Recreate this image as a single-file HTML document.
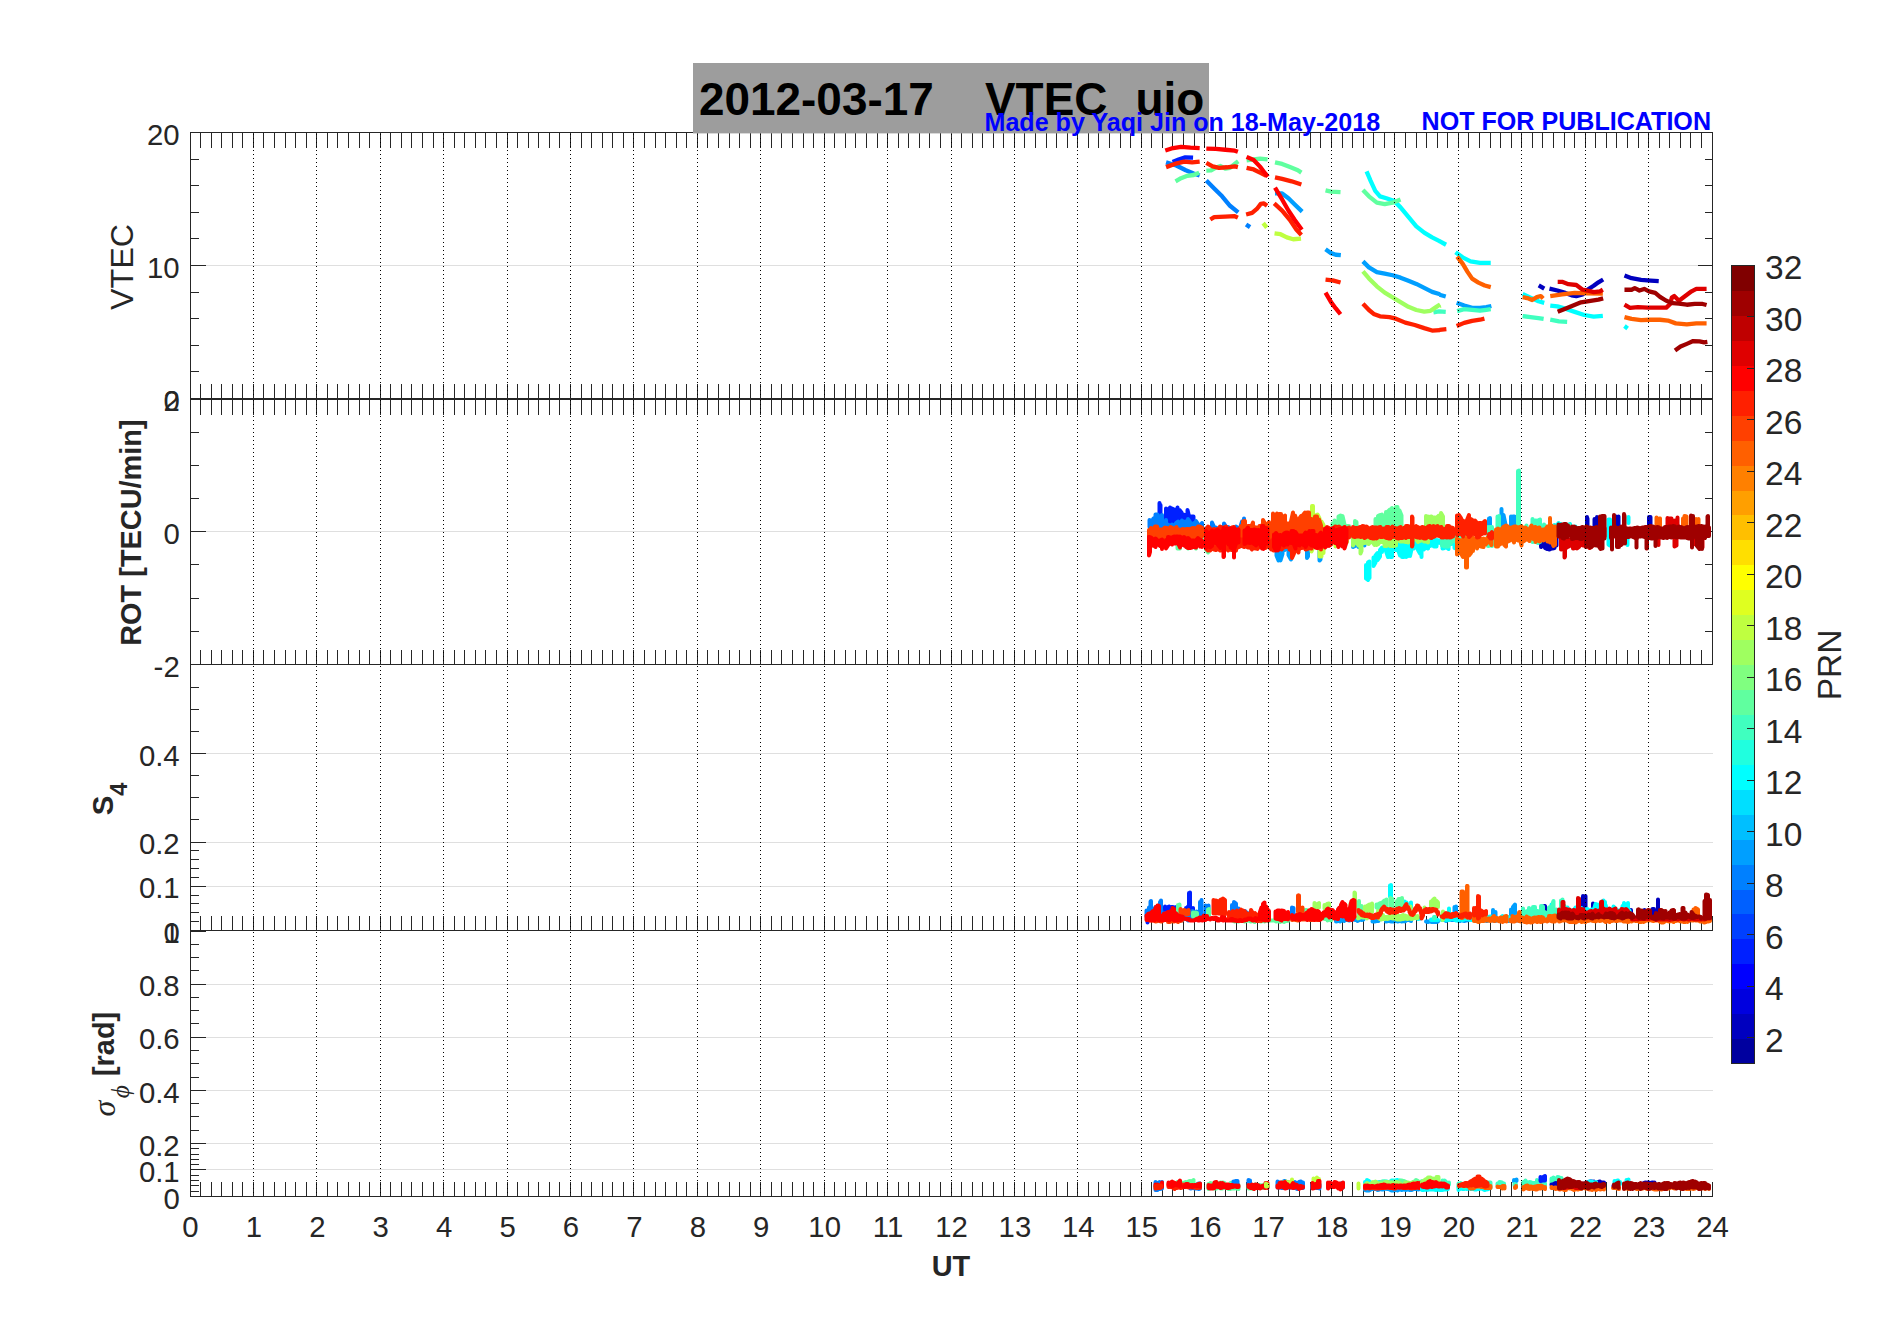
<!DOCTYPE html>
<html lang="en">
<head>
<meta charset="utf-8">
<title>2012-03-17 VTEC uio</title>
<style>
html,body{margin:0;padding:0;background:#fff;}
body{width:1902px;height:1330px;overflow:hidden;}
svg{display:block;}
</style>
</head>
<body>
<svg width="1902" height="1330" viewBox="0 0 1902 1330" font-family="'Liberation Sans', sans-serif" font-size="29.33" fill="#262626">
<rect width="1902" height="1330" fill="#fff"/>
<g shape-rendering="crispEdges">
<line x1="190.5" y1="265.5" x2="1712.5" y2="265.5" stroke="#dfdfdf" stroke-width="1"/>
<line x1="190.5" y1="531.5" x2="1712.5" y2="531.5" stroke="#dfdfdf" stroke-width="1"/>
<line x1="190.5" y1="886.5" x2="1712.5" y2="886.5" stroke="#dfdfdf" stroke-width="1"/>
<line x1="190.5" y1="842.5" x2="1712.5" y2="842.5" stroke="#dfdfdf" stroke-width="1"/>
<line x1="190.5" y1="753.5" x2="1712.5" y2="753.5" stroke="#dfdfdf" stroke-width="1"/>
<line x1="190.5" y1="1169.5" x2="1712.5" y2="1169.5" stroke="#dfdfdf" stroke-width="1"/>
<line x1="190.5" y1="1143.5" x2="1712.5" y2="1143.5" stroke="#dfdfdf" stroke-width="1"/>
<line x1="190.5" y1="1090.5" x2="1712.5" y2="1090.5" stroke="#dfdfdf" stroke-width="1"/>
<line x1="190.5" y1="1037.5" x2="1712.5" y2="1037.5" stroke="#dfdfdf" stroke-width="1"/>
<line x1="190.5" y1="984.5" x2="1712.5" y2="984.5" stroke="#dfdfdf" stroke-width="1"/>
</g>
<g shape-rendering="crispEdges">
<path d="M190.5 133v15M200.5 133v15M211.5 133v15M221.5 133v15M232.5 133v15M242.5 133v15M253.5 133v15M263.5 133v15M274.5 133v15M285.5 133v15M295.5 133v15M306.5 133v15M316.5 133v15M327.5 133v15M337.5 133v15M348.5 133v15M359.5 133v15M369.5 133v15M380.5 133v15M390.5 133v15M401.5 133v15M411.5 133v15M422.5 133v15M433.5 133v15M443.5 133v15M454.5 133v15M464.5 133v15M475.5 133v15M485.5 133v15M496.5 133v15M507.5 133v15M517.5 133v15M528.5 133v15M538.5 133v15M549.5 133v15M559.5 133v15M570.5 133v15M581.5 133v15M591.5 133v15M602.5 133v15M612.5 133v15M623.5 133v15M633.5 133v15M644.5 133v15M655.5 133v15M665.5 133v15M676.5 133v15M686.5 133v15M697.5 133v15M707.5 133v15M718.5 133v15M729.5 133v15M739.5 133v15M750.5 133v15M760.5 133v15M771.5 133v15M781.5 133v15M792.5 133v15M803.5 133v15M813.5 133v15M824.5 133v15M834.5 133v15M845.5 133v15M855.5 133v15M866.5 133v15M877.5 133v15M887.5 133v15M898.5 133v15M908.5 133v15M919.5 133v15M929.5 133v15M940.5 133v15M951.5 133v15M961.5 133v15M972.5 133v15M982.5 133v15M993.5 133v15M1003.5 133v15M1014.5 133v15M1024.5 133v15M1035.5 133v15M1046.5 133v15M1056.5 133v15M1067.5 133v15M1077.5 133v15M1088.5 133v15M1098.5 133v15M1109.5 133v15M1120.5 133v15M1130.5 133v15M1141.5 133v15M1151.5 133v15M1162.5 133v15M1172.5 133v15M1183.5 133v15M1194.5 133v15M1204.5 133v15M1215.5 133v15M1225.5 133v15M1236.5 133v15M1246.5 133v15M1257.5 133v15M1268.5 133v15M1278.5 133v15M1289.5 133v15M1299.5 133v15M1310.5 133v15M1320.5 133v15M1331.5 133v15M1342.5 133v15M1352.5 133v15M1363.5 133v15M1373.5 133v15M1384.5 133v15M1394.5 133v15M1405.5 133v15M1416.5 133v15M1426.5 133v15M1437.5 133v15M1447.5 133v15M1458.5 133v15M1468.5 133v15M1479.5 133v15M1490.5 133v15M1500.5 133v15M1511.5 133v15M1521.5 133v15M1532.5 133v15M1542.5 133v15M1553.5 133v15M1564.5 133v15M1574.5 133v15M1585.5 133v15M1595.5 133v15M1606.5 133v15M1616.5 133v15M1627.5 133v15M1638.5 133v15M1648.5 133v15M1659.5 133v15M1669.5 133v15M1680.5 133v15M1690.5 133v15M1701.5 133v15M1712.5 133v15" stroke="#262626" stroke-width="1" fill="none" />
<path d="M190.5 399v-15M200.5 399v-15M211.5 399v-15M221.5 399v-15M232.5 399v-15M242.5 399v-15M253.5 399v-15M263.5 399v-15M274.5 399v-15M285.5 399v-15M295.5 399v-15M306.5 399v-15M316.5 399v-15M327.5 399v-15M337.5 399v-15M348.5 399v-15M359.5 399v-15M369.5 399v-15M380.5 399v-15M390.5 399v-15M401.5 399v-15M411.5 399v-15M422.5 399v-15M433.5 399v-15M443.5 399v-15M454.5 399v-15M464.5 399v-15M475.5 399v-15M485.5 399v-15M496.5 399v-15M507.5 399v-15M517.5 399v-15M528.5 399v-15M538.5 399v-15M549.5 399v-15M559.5 399v-15M570.5 399v-15M581.5 399v-15M591.5 399v-15M602.5 399v-15M612.5 399v-15M623.5 399v-15M633.5 399v-15M644.5 399v-15M655.5 399v-15M665.5 399v-15M676.5 399v-15M686.5 399v-15M697.5 399v-15M707.5 399v-15M718.5 399v-15M729.5 399v-15M739.5 399v-15M750.5 399v-15M760.5 399v-15M771.5 399v-15M781.5 399v-15M792.5 399v-15M803.5 399v-15M813.5 399v-15M824.5 399v-15M834.5 399v-15M845.5 399v-15M855.5 399v-15M866.5 399v-15M877.5 399v-15M887.5 399v-15M898.5 399v-15M908.5 399v-15M919.5 399v-15M929.5 399v-15M940.5 399v-15M951.5 399v-15M961.5 399v-15M972.5 399v-15M982.5 399v-15M993.5 399v-15M1003.5 399v-15M1014.5 399v-15M1024.5 399v-15M1035.5 399v-15M1046.5 399v-15M1056.5 399v-15M1067.5 399v-15M1077.5 399v-15M1088.5 399v-15M1098.5 399v-15M1109.5 399v-15M1120.5 399v-15M1130.5 399v-15M1141.5 399v-15M1151.5 399v-15M1162.5 399v-15M1172.5 399v-15M1183.5 399v-15M1194.5 399v-15M1204.5 399v-15M1215.5 399v-15M1225.5 399v-15M1236.5 399v-15M1246.5 399v-15M1257.5 399v-15M1268.5 399v-15M1278.5 399v-15M1289.5 399v-15M1299.5 399v-15M1310.5 399v-15M1320.5 399v-15M1331.5 399v-15M1342.5 399v-15M1352.5 399v-15M1363.5 399v-15M1373.5 399v-15M1384.5 399v-15M1394.5 399v-15M1405.5 399v-15M1416.5 399v-15M1426.5 399v-15M1437.5 399v-15M1447.5 399v-15M1458.5 399v-15M1468.5 399v-15M1479.5 399v-15M1490.5 399v-15M1500.5 399v-15M1511.5 399v-15M1521.5 399v-15M1532.5 399v-15M1542.5 399v-15M1553.5 399v-15M1564.5 399v-15M1574.5 399v-15M1585.5 399v-15M1595.5 399v-15M1606.5 399v-15M1616.5 399v-15M1627.5 399v-15M1638.5 399v-15M1648.5 399v-15M1659.5 399v-15M1669.5 399v-15M1680.5 399v-15M1690.5 399v-15M1701.5 399v-15M1712.5 399v-15" stroke="#262626" stroke-width="1" fill="none" />
<path d="M190.5 400v15M200.5 400v15M211.5 400v15M221.5 400v15M232.5 400v15M242.5 400v15M253.5 400v15M263.5 400v15M274.5 400v15M285.5 400v15M295.5 400v15M306.5 400v15M316.5 400v15M327.5 400v15M337.5 400v15M348.5 400v15M359.5 400v15M369.5 400v15M380.5 400v15M390.5 400v15M401.5 400v15M411.5 400v15M422.5 400v15M433.5 400v15M443.5 400v15M454.5 400v15M464.5 400v15M475.5 400v15M485.5 400v15M496.5 400v15M507.5 400v15M517.5 400v15M528.5 400v15M538.5 400v15M549.5 400v15M559.5 400v15M570.5 400v15M581.5 400v15M591.5 400v15M602.5 400v15M612.5 400v15M623.5 400v15M633.5 400v15M644.5 400v15M655.5 400v15M665.5 400v15M676.5 400v15M686.5 400v15M697.5 400v15M707.5 400v15M718.5 400v15M729.5 400v15M739.5 400v15M750.5 400v15M760.5 400v15M771.5 400v15M781.5 400v15M792.5 400v15M803.5 400v15M813.5 400v15M824.5 400v15M834.5 400v15M845.5 400v15M855.5 400v15M866.5 400v15M877.5 400v15M887.5 400v15M898.5 400v15M908.5 400v15M919.5 400v15M929.5 400v15M940.5 400v15M951.5 400v15M961.5 400v15M972.5 400v15M982.5 400v15M993.5 400v15M1003.5 400v15M1014.5 400v15M1024.5 400v15M1035.5 400v15M1046.5 400v15M1056.5 400v15M1067.5 400v15M1077.5 400v15M1088.5 400v15M1098.5 400v15M1109.5 400v15M1120.5 400v15M1130.5 400v15M1141.5 400v15M1151.5 400v15M1162.5 400v15M1172.5 400v15M1183.5 400v15M1194.5 400v15M1204.5 400v15M1215.5 400v15M1225.5 400v15M1236.5 400v15M1246.5 400v15M1257.5 400v15M1268.5 400v15M1278.5 400v15M1289.5 400v15M1299.5 400v15M1310.5 400v15M1320.5 400v15M1331.5 400v15M1342.5 400v15M1352.5 400v15M1363.5 400v15M1373.5 400v15M1384.5 400v15M1394.5 400v15M1405.5 400v15M1416.5 400v15M1426.5 400v15M1437.5 400v15M1447.5 400v15M1458.5 400v15M1468.5 400v15M1479.5 400v15M1490.5 400v15M1500.5 400v15M1511.5 400v15M1521.5 400v15M1532.5 400v15M1542.5 400v15M1553.5 400v15M1564.5 400v15M1574.5 400v15M1585.5 400v15M1595.5 400v15M1606.5 400v15M1616.5 400v15M1627.5 400v15M1638.5 400v15M1648.5 400v15M1659.5 400v15M1669.5 400v15M1680.5 400v15M1690.5 400v15M1701.5 400v15M1712.5 400v15" stroke="#262626" stroke-width="1" fill="none" />
<path d="M190.5 665v-15M200.5 665v-15M211.5 665v-15M221.5 665v-15M232.5 665v-15M242.5 665v-15M253.5 665v-15M263.5 665v-15M274.5 665v-15M285.5 665v-15M295.5 665v-15M306.5 665v-15M316.5 665v-15M327.5 665v-15M337.5 665v-15M348.5 665v-15M359.5 665v-15M369.5 665v-15M380.5 665v-15M390.5 665v-15M401.5 665v-15M411.5 665v-15M422.5 665v-15M433.5 665v-15M443.5 665v-15M454.5 665v-15M464.5 665v-15M475.5 665v-15M485.5 665v-15M496.5 665v-15M507.5 665v-15M517.5 665v-15M528.5 665v-15M538.5 665v-15M549.5 665v-15M559.5 665v-15M570.5 665v-15M581.5 665v-15M591.5 665v-15M602.5 665v-15M612.5 665v-15M623.5 665v-15M633.5 665v-15M644.5 665v-15M655.5 665v-15M665.5 665v-15M676.5 665v-15M686.5 665v-15M697.5 665v-15M707.5 665v-15M718.5 665v-15M729.5 665v-15M739.5 665v-15M750.5 665v-15M760.5 665v-15M771.5 665v-15M781.5 665v-15M792.5 665v-15M803.5 665v-15M813.5 665v-15M824.5 665v-15M834.5 665v-15M845.5 665v-15M855.5 665v-15M866.5 665v-15M877.5 665v-15M887.5 665v-15M898.5 665v-15M908.5 665v-15M919.5 665v-15M929.5 665v-15M940.5 665v-15M951.5 665v-15M961.5 665v-15M972.5 665v-15M982.5 665v-15M993.5 665v-15M1003.5 665v-15M1014.5 665v-15M1024.5 665v-15M1035.5 665v-15M1046.5 665v-15M1056.5 665v-15M1067.5 665v-15M1077.5 665v-15M1088.5 665v-15M1098.5 665v-15M1109.5 665v-15M1120.5 665v-15M1130.5 665v-15M1141.5 665v-15M1151.5 665v-15M1162.5 665v-15M1172.5 665v-15M1183.5 665v-15M1194.5 665v-15M1204.5 665v-15M1215.5 665v-15M1225.5 665v-15M1236.5 665v-15M1246.5 665v-15M1257.5 665v-15M1268.5 665v-15M1278.5 665v-15M1289.5 665v-15M1299.5 665v-15M1310.5 665v-15M1320.5 665v-15M1331.5 665v-15M1342.5 665v-15M1352.5 665v-15M1363.5 665v-15M1373.5 665v-15M1384.5 665v-15M1394.5 665v-15M1405.5 665v-15M1416.5 665v-15M1426.5 665v-15M1437.5 665v-15M1447.5 665v-15M1458.5 665v-15M1468.5 665v-15M1479.5 665v-15M1490.5 665v-15M1500.5 665v-15M1511.5 665v-15M1521.5 665v-15M1532.5 665v-15M1542.5 665v-15M1553.5 665v-15M1564.5 665v-15M1574.5 665v-15M1585.5 665v-15M1595.5 665v-15M1606.5 665v-15M1616.5 665v-15M1627.5 665v-15M1638.5 665v-15M1648.5 665v-15M1659.5 665v-15M1669.5 665v-15M1680.5 665v-15M1690.5 665v-15M1701.5 665v-15M1712.5 665v-15" stroke="#262626" stroke-width="1" fill="none" />
<path d="M190.5 931v-15M200.5 931v-15M211.5 931v-15M221.5 931v-15M232.5 931v-15M242.5 931v-15M253.5 931v-15M263.5 931v-15M274.5 931v-15M285.5 931v-15M295.5 931v-15M306.5 931v-15M316.5 931v-15M327.5 931v-15M337.5 931v-15M348.5 931v-15M359.5 931v-15M369.5 931v-15M380.5 931v-15M390.5 931v-15M401.5 931v-15M411.5 931v-15M422.5 931v-15M433.5 931v-15M443.5 931v-15M454.5 931v-15M464.5 931v-15M475.5 931v-15M485.5 931v-15M496.5 931v-15M507.5 931v-15M517.5 931v-15M528.5 931v-15M538.5 931v-15M549.5 931v-15M559.5 931v-15M570.5 931v-15M581.5 931v-15M591.5 931v-15M602.5 931v-15M612.5 931v-15M623.5 931v-15M633.5 931v-15M644.5 931v-15M655.5 931v-15M665.5 931v-15M676.5 931v-15M686.5 931v-15M697.5 931v-15M707.5 931v-15M718.5 931v-15M729.5 931v-15M739.5 931v-15M750.5 931v-15M760.5 931v-15M771.5 931v-15M781.5 931v-15M792.5 931v-15M803.5 931v-15M813.5 931v-15M824.5 931v-15M834.5 931v-15M845.5 931v-15M855.5 931v-15M866.5 931v-15M877.5 931v-15M887.5 931v-15M898.5 931v-15M908.5 931v-15M919.5 931v-15M929.5 931v-15M940.5 931v-15M951.5 931v-15M961.5 931v-15M972.5 931v-15M982.5 931v-15M993.5 931v-15M1003.5 931v-15M1014.5 931v-15M1024.5 931v-15M1035.5 931v-15M1046.5 931v-15M1056.5 931v-15M1067.5 931v-15M1077.5 931v-15M1088.5 931v-15M1098.5 931v-15M1109.5 931v-15M1120.5 931v-15M1130.5 931v-15M1141.5 931v-15M1151.5 931v-15M1162.5 931v-15M1172.5 931v-15M1183.5 931v-15M1194.5 931v-15M1204.5 931v-15M1215.5 931v-15M1225.5 931v-15M1236.5 931v-15M1246.5 931v-15M1257.5 931v-15M1268.5 931v-15M1278.5 931v-15M1289.5 931v-15M1299.5 931v-15M1310.5 931v-15M1320.5 931v-15M1331.5 931v-15M1342.5 931v-15M1352.5 931v-15M1363.5 931v-15M1373.5 931v-15M1384.5 931v-15M1394.5 931v-15M1405.5 931v-15M1416.5 931v-15M1426.5 931v-15M1437.5 931v-15M1447.5 931v-15M1458.5 931v-15M1468.5 931v-15M1479.5 931v-15M1490.5 931v-15M1500.5 931v-15M1511.5 931v-15M1521.5 931v-15M1532.5 931v-15M1542.5 931v-15M1553.5 931v-15M1564.5 931v-15M1574.5 931v-15M1585.5 931v-15M1595.5 931v-15M1606.5 931v-15M1616.5 931v-15M1627.5 931v-15M1638.5 931v-15M1648.5 931v-15M1659.5 931v-15M1669.5 931v-15M1680.5 931v-15M1690.5 931v-15M1701.5 931v-15M1712.5 931v-15" stroke="#262626" stroke-width="1" fill="none" />
<path d="M190.5 1197v-15M200.5 1197v-15M211.5 1197v-15M221.5 1197v-15M232.5 1197v-15M242.5 1197v-15M253.5 1197v-15M263.5 1197v-15M274.5 1197v-15M285.5 1197v-15M295.5 1197v-15M306.5 1197v-15M316.5 1197v-15M327.5 1197v-15M337.5 1197v-15M348.5 1197v-15M359.5 1197v-15M369.5 1197v-15M380.5 1197v-15M390.5 1197v-15M401.5 1197v-15M411.5 1197v-15M422.5 1197v-15M433.5 1197v-15M443.5 1197v-15M454.5 1197v-15M464.5 1197v-15M475.5 1197v-15M485.5 1197v-15M496.5 1197v-15M507.5 1197v-15M517.5 1197v-15M528.5 1197v-15M538.5 1197v-15M549.5 1197v-15M559.5 1197v-15M570.5 1197v-15M581.5 1197v-15M591.5 1197v-15M602.5 1197v-15M612.5 1197v-15M623.5 1197v-15M633.5 1197v-15M644.5 1197v-15M655.5 1197v-15M665.5 1197v-15M676.5 1197v-15M686.5 1197v-15M697.5 1197v-15M707.5 1197v-15M718.5 1197v-15M729.5 1197v-15M739.5 1197v-15M750.5 1197v-15M760.5 1197v-15M771.5 1197v-15M781.5 1197v-15M792.5 1197v-15M803.5 1197v-15M813.5 1197v-15M824.5 1197v-15M834.5 1197v-15M845.5 1197v-15M855.5 1197v-15M866.5 1197v-15M877.5 1197v-15M887.5 1197v-15M898.5 1197v-15M908.5 1197v-15M919.5 1197v-15M929.5 1197v-15M940.5 1197v-15M951.5 1197v-15M961.5 1197v-15M972.5 1197v-15M982.5 1197v-15M993.5 1197v-15M1003.5 1197v-15M1014.5 1197v-15M1024.5 1197v-15M1035.5 1197v-15M1046.5 1197v-15M1056.5 1197v-15M1067.5 1197v-15M1077.5 1197v-15M1088.5 1197v-15M1098.5 1197v-15M1109.5 1197v-15M1120.5 1197v-15M1130.5 1197v-15M1141.5 1197v-15M1151.5 1197v-15M1162.5 1197v-15M1172.5 1197v-15M1183.5 1197v-15M1194.5 1197v-15M1204.5 1197v-15M1215.5 1197v-15M1225.5 1197v-15M1236.5 1197v-15M1246.5 1197v-15M1257.5 1197v-15M1268.5 1197v-15M1278.5 1197v-15M1289.5 1197v-15M1299.5 1197v-15M1310.5 1197v-15M1320.5 1197v-15M1331.5 1197v-15M1342.5 1197v-15M1352.5 1197v-15M1363.5 1197v-15M1373.5 1197v-15M1384.5 1197v-15M1394.5 1197v-15M1405.5 1197v-15M1416.5 1197v-15M1426.5 1197v-15M1437.5 1197v-15M1447.5 1197v-15M1458.5 1197v-15M1468.5 1197v-15M1479.5 1197v-15M1490.5 1197v-15M1500.5 1197v-15M1511.5 1197v-15M1521.5 1197v-15M1532.5 1197v-15M1542.5 1197v-15M1553.5 1197v-15M1564.5 1197v-15M1574.5 1197v-15M1585.5 1197v-15M1595.5 1197v-15M1606.5 1197v-15M1616.5 1197v-15M1627.5 1197v-15M1638.5 1197v-15M1648.5 1197v-15M1659.5 1197v-15M1669.5 1197v-15M1680.5 1197v-15M1690.5 1197v-15M1701.5 1197v-15M1712.5 1197v-15" stroke="#262626" stroke-width="1" fill="none" />
<path d="M190.5 265.5h15M1712.5 265.5h-15M190.5 371.5h8M1712.5 371.5h-8M190.5 345.5h8M1712.5 345.5h-8M190.5 318.5h8M1712.5 318.5h-8M190.5 292.5h8M1712.5 292.5h-8M190.5 238.5h8M1712.5 238.5h-8M190.5 212.5h8M1712.5 212.5h-8M190.5 185.5h8M1712.5 185.5h-8M190.5 159.5h8M1712.5 159.5h-8" stroke="#262626" stroke-width="1" fill="none" />
<path d="M190.5 531.5h15M1712.5 531.5h-15M190.5 631.5h8M1712.5 631.5h-8M190.5 598.5h8M1712.5 598.5h-8M190.5 564.5h8M1712.5 564.5h-8M190.5 498.5h8M1712.5 498.5h-8M190.5 465.5h8M1712.5 465.5h-8M190.5 432.5h8M1712.5 432.5h-8" stroke="#262626" stroke-width="1" fill="none" />
<path d="M190.5 886.5h15M190.5 842.5h15M190.5 753.5h15M190.5 921.5h8M190.5 912.5h8M190.5 903.5h8M190.5 895.5h8M190.5 877.5h8M190.5 868.5h8M190.5 859.5h8M190.5 850.5h8M190.5 819.5h8M190.5 797.5h8M190.5 775.5h8M190.5 731.5h8M190.5 709.5h8M190.5 687.5h8" stroke="#262626" stroke-width="1" fill="none" />
<path d="M190.5 1169.5h15M190.5 1143.5h15M190.5 1090.5h15M190.5 1037.5h15M190.5 984.5h15M190.5 931.5h15M190.5 1191.5h8M190.5 1185.5h8M190.5 1180.5h8M190.5 1175.5h8M190.5 1164.5h8M190.5 1159.5h8M190.5 1154.5h8M190.5 1148.5h8M190.5 1130.5h8M190.5 1116.5h8M190.5 1103.5h8M190.5 1077.5h8M190.5 1063.5h8M190.5 1050.5h8M190.5 1023.5h8M190.5 1010.5h8M190.5 997.5h8M190.5 970.5h8M190.5 957.5h8M190.5 944.5h8" stroke="#262626" stroke-width="1" fill="none" />
<path d="M190.5 132.5H1712.5V398.5H190.5Z" stroke="#262626" stroke-width="1" fill="none" />
<path d="M190.5 399.5H1712.5V664.5H190.5Z" stroke="#262626" stroke-width="1" fill="none" />
<path d="M190.5 664.5V930.5H1712.5" stroke="#262626" stroke-width="1" fill="none" />
<path d="M190.5 930.5V1196.5H1712.5" stroke="#262626" stroke-width="1" fill="none" />
</g>
<rect x="693" y="63" width="516" height="70.4" fill="#9d9d9d"/>
<g id="vtec">
<path d="M1538.74 285.47L1544.26 288.63" stroke="#0000bf" stroke-width="4.3" fill="none" stroke-linejoin="round" stroke-linecap="butt"/>
<path d="M1549.47 288.63L1557.37 290.53L1565.26 292.89L1571.58 295.26L1576.32 296.05L1582.63 294.47L1587.37 289.74L1593.68 285.79L1598.42 282.32L1603.16 279.47" stroke="#0000bf" stroke-width="4.3" fill="none" stroke-linejoin="round" stroke-linecap="butt"/>
<path d="M1624.47 275.53L1631.58 278.21L1641.05 279.95L1650.53 280.58L1658.74 281.05" stroke="#0000bf" stroke-width="4.3" fill="none" stroke-linejoin="round" stroke-linecap="butt"/>
<path d="M1172.54 161.92L1178.6 159.56L1185.33 157.38L1193.07 157.71" stroke="#0020ff" stroke-width="4.3" fill="none" stroke-linejoin="round" stroke-linecap="butt"/>
<path d="M1166.05 162.37L1176.32 165.53L1185.79 170.26L1193.68 173.42L1199.68 175.47" stroke="#0080ff" stroke-width="4.3" fill="none" stroke-linejoin="round" stroke-linecap="butt"/>
<path d="M1206.32 180.53L1214.21 188.42L1222.11 196.32L1230 205.79L1238.21 212.42" stroke="#0080ff" stroke-width="4.3" fill="none" stroke-linejoin="round" stroke-linecap="butt"/>
<path d="M1246.11 224.42L1250.05 227.11" stroke="#0080ff" stroke-width="4.3" fill="none" stroke-linejoin="round" stroke-linecap="butt"/>
<path d="M1275 193.47L1282.11 193.47L1288.42 198.21L1294.74 204.53L1302.16 211.63" stroke="#009fff" stroke-width="4.3" fill="none" stroke-linejoin="round" stroke-linecap="butt"/>
<path d="M1325.53 249.21L1331.05 253.16L1335.79 254.74L1340.84 255.21" stroke="#009fff" stroke-width="4.3" fill="none" stroke-linejoin="round" stroke-linecap="butt"/>
<path d="M1362.95 261.37L1368.95 267.37L1376.84 272.11L1384.74 273.68L1392.63 275.26L1400.53 277.63L1408.42 280.79L1416.32 283.95L1424.21 287.89L1432.11 291.84L1440 294.21" stroke="#009fff" stroke-width="4.3" fill="none" stroke-linejoin="round" stroke-linecap="butt"/>
<path d="M1439.5 294.74L1445.74 296.53" stroke="#009fff" stroke-width="4.3" fill="none" stroke-linejoin="round" stroke-linecap="butt"/>
<path d="M1456.63 302.84L1464.21 305.53L1472.11 307.89L1480 307.89L1486.32 307.11L1491.37 306" stroke="#009fff" stroke-width="4.3" fill="none" stroke-linejoin="round" stroke-linecap="butt"/>
<path d="M1366.58 171.37L1370.53 180.53L1375.26 190.79L1380 196.32L1386.32 198.21L1394.21 201.05L1400.53 207.37L1408.42 216.84L1416.32 226.32L1424.21 232.63L1432.11 237.37L1440 241.32" stroke="#00ffff" stroke-width="4.3" fill="none" stroke-linejoin="round" stroke-linecap="butt"/>
<path d="M1439.5 241.21L1446.05 244.74" stroke="#00ffff" stroke-width="4.3" fill="none" stroke-linejoin="round" stroke-linecap="butt"/>
<path d="M1455.53 252.32L1462.63 257.37L1470.53 261.32L1480 262.89L1490.74 262.89" stroke="#00ffff" stroke-width="4.3" fill="none" stroke-linejoin="round" stroke-linecap="butt"/>
<path d="M1522.63 294L1530.53 297.63L1538.42 301.26L1544.26 302.84" stroke="#00ffff" stroke-width="4.3" fill="none" stroke-linejoin="round" stroke-linecap="butt"/>
<path d="M1550.26 305.53L1557.37 306.32L1565.26 308.68L1574.74 311.84L1584.21 315L1593.68 316.58L1602.84 315.79" stroke="#00ffff" stroke-width="4.3" fill="none" stroke-linejoin="round" stroke-linecap="butt"/>
<path d="M1624.47 326.05L1627.63 328.42" stroke="#00ffff" stroke-width="4.3" fill="none" stroke-linejoin="round" stroke-linecap="butt"/>
<path d="M1433.42 312.32L1438.95 311.37L1445.74 311.84" stroke="#40ffbf" stroke-width="4.3" fill="none" stroke-linejoin="round" stroke-linecap="butt"/>
<path d="M1457.11 311.05L1464.21 309.16L1472.11 309.79L1480 310.74L1486.32 309.79L1490.74 309.16" stroke="#40ffbf" stroke-width="4.3" fill="none" stroke-linejoin="round" stroke-linecap="butt"/>
<path d="M1522.63 316.11L1530.53 317.05L1538.42 318.16L1543.63 318.95" stroke="#40ffbf" stroke-width="4.3" fill="none" stroke-linejoin="round" stroke-linecap="butt"/>
<path d="M1550.26 319.74L1558.95 321.32L1567.16 321.79" stroke="#40ffbf" stroke-width="4.3" fill="none" stroke-linejoin="round" stroke-linecap="butt"/>
<path d="M1175.53 181.32L1181.05 178.16L1187.37 175.79L1193.68 175L1199.21 172.63" stroke="#60ff9f" stroke-width="4.3" fill="none" stroke-linejoin="round" stroke-linecap="butt"/>
<path d="M1206.32 170.58L1211.05 170.42L1215.79 167.58L1220.53 166L1225.26 168.68L1230 167.89L1234.74 163.95L1238.21 161.26" stroke="#60ff9f" stroke-width="4.3" fill="none" stroke-linejoin="round" stroke-linecap="butt"/>
<path d="M1246.58 160.32L1253.68 159.37L1260 158.58L1267.58 159.37" stroke="#60ff9f" stroke-width="4.3" fill="none" stroke-linejoin="round" stroke-linecap="butt"/>
<path d="M1275 162.37L1282.11 163.95L1290 167.11L1297.89 170.26L1301.37 172.63" stroke="#60ff9f" stroke-width="4.3" fill="none" stroke-linejoin="round" stroke-linecap="butt"/>
<path d="M1325.53 190.32L1331.05 191.58L1340.53 192.05" stroke="#60ff9f" stroke-width="4.3" fill="none" stroke-linejoin="round" stroke-linecap="butt"/>
<path d="M1362.95 190L1368.95 196.32L1376.84 202.63L1384.74 204.21L1392.63 202.63L1400.53 199.47" stroke="#60ff9f" stroke-width="4.3" fill="none" stroke-linejoin="round" stroke-linecap="butt"/>
<path d="M1362.95 271.32L1368.95 278.42L1376.84 286.32L1384.74 292.63L1392.63 297.37L1400.53 302.11L1408.42 306.84L1416.32 310L1424.21 311.58L1430.53 310.79L1435.26 307.63L1440 304.47" stroke="#9fff60" stroke-width="4.3" fill="none" stroke-linejoin="round" stroke-linecap="butt"/>
<path d="M1439.5 306.04L1440.53 305.53" stroke="#9fff60" stroke-width="4.3" fill="none" stroke-linejoin="round" stroke-linecap="butt"/>
<path d="M1263.16 223.16L1266.79 227.58" stroke="#bfff40" stroke-width="4.3" fill="none" stroke-linejoin="round" stroke-linecap="butt"/>
<path d="M1274.53 233.42L1280.53 234.21L1286.84 237.37L1293.16 239.26L1301.05 238.63" stroke="#bfff40" stroke-width="4.3" fill="none" stroke-linejoin="round" stroke-linecap="butt"/>
<path d="M1457.11 256.58L1462.63 263.68L1467.37 271.58L1472.11 278.68L1478.42 282.63L1484.74 285.47L1490.74 287.05" stroke="#ff6000" stroke-width="4.3" fill="none" stroke-linejoin="round" stroke-linecap="butt"/>
<path d="M1522.63 297.16L1527.37 298.11L1532.11 300L1536.84 297.16L1540.79 296.05L1543.16 298.42" stroke="#ff6000" stroke-width="4.3" fill="none" stroke-linejoin="round" stroke-linecap="butt"/>
<path d="M1550.26 296.05L1562.11 294.47L1574.74 292.89L1587.37 293.37L1602.84 293.68" stroke="#ff6000" stroke-width="4.3" fill="none" stroke-linejoin="round" stroke-linecap="butt"/>
<path d="M1624.47 317.05L1631.58 318.95L1641.05 320.21L1650.53 319.74L1660 319.74L1667.89 320.53L1675.79 323.37L1686.84 324.47L1696.32 323.37L1706.58 323.37" stroke="#ff6000" stroke-width="4.3" fill="none" stroke-linejoin="round" stroke-linecap="butt"/>
<path d="M1166.05 167.11L1174.74 163.95L1184.21 161.58L1192.11 162.37L1199.68 161.58" stroke="#ff2000" stroke-width="4.3" fill="none" stroke-linejoin="round" stroke-linecap="butt"/>
<path d="M1206.32 162.84L1212.63 166.32L1218.95 167.89L1226.84 167.26L1234.74 166.32L1237.89 167.11" stroke="#ff2000" stroke-width="4.3" fill="none" stroke-linejoin="round" stroke-linecap="butt"/>
<path d="M1210.26 219.53L1214.21 217.16L1225.26 216.68L1234.74 216.21L1237.89 217.63" stroke="#ff2000" stroke-width="4.3" fill="none" stroke-linejoin="round" stroke-linecap="butt"/>
<path d="M1246.58 167.89L1253.68 169.47L1260 172.63L1266.32 175.79" stroke="#ff2000" stroke-width="4.3" fill="none" stroke-linejoin="round" stroke-linecap="butt"/>
<path d="M1246.11 214.47L1252.11 212.89L1256.84 208.95L1260.79 203.89L1263.95 203.42L1267.11 205.79" stroke="#ff2000" stroke-width="4.3" fill="none" stroke-linejoin="round" stroke-linecap="butt"/>
<path d="M1275 177.37L1282.11 178.95L1291.58 181.32L1301.37 184.47" stroke="#ff2000" stroke-width="4.3" fill="none" stroke-linejoin="round" stroke-linecap="butt"/>
<path d="M1274.21 203.42L1282.11 210.53L1290 220L1296.32 229.47L1301.37 235" stroke="#ff2000" stroke-width="4.3" fill="none" stroke-linejoin="round" stroke-linecap="butt"/>
<path d="M1325.53 279.53L1332.63 280.32L1340.53 282.53" stroke="#ff2000" stroke-width="4.3" fill="none" stroke-linejoin="round" stroke-linecap="butt"/>
<path d="M1362.95 303.68L1368.95 310L1373.68 313.95L1380 316.32L1389.47 317.11L1395.79 318.68L1405.26 322.63L1414.74 325L1424.21 328.16L1432.11 330.53L1440 330.21" stroke="#ff2000" stroke-width="4.3" fill="none" stroke-linejoin="round" stroke-linecap="butt"/>
<path d="M1439.5 329.94L1446.37 329.21" stroke="#ff2000" stroke-width="4.3" fill="none" stroke-linejoin="round" stroke-linecap="butt"/>
<path d="M1456.63 326.05L1464.21 322.89L1472.11 320.84L1480 319.74L1484.42 318.63" stroke="#ff2000" stroke-width="4.3" fill="none" stroke-linejoin="round" stroke-linecap="butt"/>
<path d="M1165.26 150.53L1171.58 148.47L1181.05 146.89L1190.53 147.68L1199.68 148.16" stroke="#ff0000" stroke-width="4.3" fill="none" stroke-linejoin="round" stroke-linecap="butt"/>
<path d="M1206.32 148.63L1215.79 148.95L1225.26 149.74L1234.74 150.68L1237.89 151.79" stroke="#ff0000" stroke-width="4.3" fill="none" stroke-linejoin="round" stroke-linecap="butt"/>
<path d="M1246.58 156.84L1253.68 160L1260 166.63L1264.74 172.95L1267.89 176.74" stroke="#ff0000" stroke-width="4.3" fill="none" stroke-linejoin="round" stroke-linecap="butt"/>
<path d="M1275 187.63L1282.11 199.47L1288.42 210.53L1294.74 220L1301.84 229.79" stroke="#ff0000" stroke-width="4.3" fill="none" stroke-linejoin="round" stroke-linecap="butt"/>
<path d="M1325.53 292.63L1331.05 302.11L1335.79 308.42L1340.53 314.26" stroke="#ff0000" stroke-width="4.3" fill="none" stroke-linejoin="round" stroke-linecap="butt"/>
<path d="M1557.68 281.84L1562.11 281.84L1568.42 284.21L1576.32 285L1582.63 289.74L1587.37 290.53L1593.68 292.11L1600 291.32L1602.84 289.74" stroke="#df0000" stroke-width="4.3" fill="none" stroke-linejoin="round" stroke-linecap="butt"/>
<path d="M1624.47 304.74L1630 307.89L1637.89 307.11L1647.37 307.58L1656.84 307.58L1666.32 307.58L1670.26 303.95L1671.84 297.63L1674.21 296.05L1678.95 300.79L1685.26 296.05L1691.58 291.32L1696.32 288.95L1706.58 288.95" stroke="#df0000" stroke-width="4.3" fill="none" stroke-linejoin="round" stroke-linecap="butt"/>
<path d="M1557.68 311.84L1565.26 308.68L1573.16 305.53L1581.05 302.37L1590.53 300.79L1598.42 299.68L1603.16 298.42" stroke="#9f0000" stroke-width="4.3" fill="none" stroke-linejoin="round" stroke-linecap="butt"/>
<path d="M1624.47 289.74L1631.58 289.74L1634.74 288.16L1639.47 290.53L1644.21 288.95L1648.95 291.32L1655.26 292.89L1660 296.84L1666.32 300.79L1672.63 303.16L1678.95 303.63L1686.84 304.74L1694.74 303.95L1702.63 303.95L1706.58 305.05" stroke="#9f0000" stroke-width="4.3" fill="none" stroke-linejoin="round" stroke-linecap="butt"/>
<path d="M1675 350.53L1680.53 346.58L1686.84 343.89L1693.16 341.05L1699.47 341.37L1704.21 342.32L1707.37 341.84" stroke="#9f0000" stroke-width="4.3" fill="none" stroke-linejoin="round" stroke-linecap="butt"/>
</g>
<g id="rot" fill="none" stroke-width="4" stroke-linejoin="round" stroke-linecap="round">
<path d="M1541 537L1541 547L1543 545L1543 536L1545 536L1545 548L1547 549L1547 537L1549 536L1549 549.5L1550.5 549L1550.5 536L1552.5 536.5L1552.5 548.5L1554.5 548L1554.5 536.5L1556.5 536L1556.5 545.5" stroke="#0000bf"/>
<path d="M1587 517L1587 533L1587.5 533L1587.5 518.5" stroke="#0000bf"/>
<path d="M1594.5 519L1594.5 531.5L1597 531L1597 517L1599 518.5L1599 530L1601 530.5L1601 519.5" stroke="#0000bf"/>
<path d="M1616 516.5L1616 532L1618.5 533L1618.5 516.5" stroke="#0000bf"/>
<path d="M1649 517L1649 533L1650.5 532.5L1650.5 517" stroke="#0000bf"/>
<path d="M1657 519.5L1657 530L1658 531.5L1658 520" stroke="#0000bf"/>
<path d="M1166 508.5L1166 524.5L1168 526.5L1168 510.5L1170 507.5L1170 526.5L1172 527L1172 508.5L1174 509.5L1174 527L1175.5 526L1175.5 515L1177.5 507.5L1177.5 524.5L1179.5 524L1179.5 510L1181.5 512.5L1181.5 523.5L1183.5 525L1183.5 514.5L1185.5 515.5L1185.5 524.5L1187.5 526L1187.5 510L1189.5 518.5L1189.5 524.5L1191.5 525.5L1191.5 516.5L1193.5 516.5L1193.5 524" stroke="#0020ff"/>
<path d="M1159.5 503L1159.5 525.5L1160.5 526.5L1160.5 505" stroke="#0020ff"/>
<path d="M1149.5 520L1149.5 527L1151.5 527L1151.5 522.5L1153.5 518.5L1153.5 528.5L1155.5 529L1155.5 514.5L1157.5 514.5L1157.5 527.5L1160 529L1160 517L1162 515L1162 529" stroke="#0080ff"/>
<path d="M1166 520L1166 528.5L1168 527.5L1168 524.5L1170 526L1170 528.5L1172 530L1172 524.5L1174 525.5L1174 530L1176 530L1176 523L1178 521.5L1178 530L1180 529.5L1180 524L1182 520.5L1182 527.5L1184 528L1184 522L1186 521.5L1186 528.5L1188 527.5L1188 519L1190 522L1190 529.5L1192 530L1192 525L1194 523L1194 527L1196 528.5L1196 521L1198 524L1198 529L1200 528.5L1200 526L1202 523L1202 527.5" stroke="#0080ff"/>
<path d="M1206 528.5L1206 528.5L1208 528L1208 528L1210 528L1210 528L1212 527L1212 522.5L1214 527L1214 529.5L1216 527.5L1216 527.5L1218 529L1218 531L1220 531.5L1220 528.5L1222 527.5L1222 527.5L1224 528L1224 523.5L1226 527L1226 527L1228 527L1228 527L1230 528L1230 528L1232 528L1232 528L1234 528L1234 528L1236 530L1236 526.5L1238 528L1238 528L1240 528L1240 528L1242 521.5L1242 527L1244 527L1244 518.5" stroke="#0080ff"/>
<path d="M1276.5 540L1276.5 555.5L1278.5 560.5L1278.5 540.5L1280.5 540.5L1280.5 560.5L1282.5 554L1282.5 539.5L1284.5 537.5L1284.5 550L1286.5 548L1286.5 538.5L1288.5 540L1288.5 555L1291 559.5L1291 540L1293 539.5L1293 554" stroke="#009fff"/>
<path d="M1307 537.5L1307 558L1308 556.5L1308 537.5" stroke="#009fff"/>
<path d="M1319.5 538.5L1319.5 560.5L1320.5 559.5L1320.5 540.5" stroke="#009fff"/>
<path d="M1353 536.5L1353 547L1355 546L1355 535.5L1356.5 536L1356.5 543.5L1358.5 547L1358.5 536L1360.5 536L1360.5 543.5L1362.5 544.5L1362.5 536.5L1364.5 536.5L1364.5 545.5" stroke="#009fff"/>
<path d="M1489 518.5L1489 533L1490 532.5L1490 518" stroke="#009fff"/>
<path d="M1501.5 509L1501.5 533L1503.5 533L1503.5 515L1505.5 524.5L1505.5 531.5" stroke="#009fff"/>
<path d="M1511 516.5L1511 533L1513 532L1513 516.5L1514.5 516.5L1514.5 532.5" stroke="#009fff"/>
<path d="M1366 565L1366 578.5L1368 580L1368 562.5L1369.5 561.5L1369.5 578" stroke="#00ffff"/>
<path d="M1373.5 557.5L1373.5 566L1375.5 562.5L1375.5 555.5L1377.5 553L1377.5 560L1380 556.5L1380 550L1382 547.5L1382 552" stroke="#00ffff"/>
<path d="M1386 540L1386 551L1388 557L1388 540L1390 540L1390 557L1392 557L1392 540L1394 539.5L1394 548L1396 550L1396 540L1398 540L1398 549.5L1400 555.5L1400 539.5L1402 540L1402 557L1404 557L1404 539.5L1406 539L1406 557L1408 556L1408 539L1410 540L1410 556L1412 547L1412 539.5L1414 540L1414 548.5L1416 546L1416 539.5L1418 540L1418 550L1420 553.5L1420 540.5L1422 540L1422 549L1424 546L1424 539.5L1426 539L1426 546L1428 548.5L1428 540" stroke="#00ffff"/>
<path d="M1422 539L1422 545L1424 549.5L1424 539.5L1426 539L1426 548L1428 548L1428 539.5L1430 539L1430 546L1432 545L1432 539L1434 539L1434 546.5L1436.5 546.5L1436.5 540L1438.5 540.5L1438.5 542.5L1440.5 543L1440.5 540L1442.5 539L1442.5 548.5L1444.5 548L1444.5 539L1446.5 540L1446.5 547.5L1448.5 549L1448.5 540L1450.5 539.5L1450.5 544L1452.5 543.5L1452.5 539L1454.5 539.5L1454.5 548L1456.5 548.5L1456.5 540" stroke="#00ffff"/>
<path d="M1421.5 539L1421.5 557L1421.5 556.5L1421.5 539" stroke="#00ffff"/>
<path d="M1608.5 519.5L1608.5 544.5L1610 545.5L1610 519.5" stroke="#00ffff"/>
<path d="M1628.5 518.5L1628.5 523L1628.5 523L1628.5 517" stroke="#00ffff"/>
<path d="M1627.5 539L1627.5 545L1627.5 545L1627.5 539" stroke="#00ffff"/>
<path d="M1554.5 525L1554.5 532L1556.5 532.5L1556.5 526L1558.5 523L1558.5 532L1560.5 531.5L1560.5 524L1562 527.5L1562 531.5L1564 531.5L1564 527.5L1566 527L1566 531.5L1568 532L1568 525L1570 524L1570 531.5L1572 532L1572 527L1574 527.5L1574 532.5L1575.5 531.5L1575.5 526.5" stroke="#00ffff"/>
<path d="M1442 532.5L1442 545.5L1444.5 546.5L1444.5 532L1446.5 532.5L1446.5 546.5L1448.5 546.5L1448.5 530.5L1450.5 532L1450.5 544L1452.5 541L1452.5 531.5L1454.5 531L1454.5 541L1456.5 542.5L1456.5 534" stroke="#40ffbf"/>
<path d="M1460.5 525L1460.5 540L1462.5 542L1462.5 527L1464.5 524L1464.5 542.5L1466.5 539.5L1466.5 525.5L1468 519.5L1468 539.5L1470 540.5L1470 519" stroke="#40ffbf"/>
<path d="M1488 527L1488 546L1490 545.5L1490 527L1492 527L1492 546" stroke="#40ffbf"/>
<path d="M1497.5 516.5L1497.5 531.5L1499 533L1499 516" stroke="#40ffbf"/>
<path d="M1518 471L1518 532.5L1519 531.5L1519 470.5" stroke="#40ffbf"/>
<path d="M1523 528L1523 534L1525 534L1525 528L1526.5 525.5L1526.5 534.5L1528.5 535.5L1528.5 529" stroke="#40ffbf"/>
<path d="M1532.5 519L1532.5 542L1534 541.5L1534 521L1536 520.5L1536 542L1538 543L1538 520.5L1540 519.5L1540 542" stroke="#40ffbf"/>
<path d="M1544 524.5L1544 532L1545.5 532.5L1545.5 526L1547.5 527.5L1547.5 532.5L1549.5 533L1549.5 527.5L1551.5 527L1551.5 532L1553.5 533L1553.5 526.5L1555.5 527L1555.5 533L1557.5 533L1557.5 527.5L1559.5 527L1559.5 533L1561.5 533L1561.5 527L1563.5 526L1563.5 533L1565.5 533L1565.5 527L1567.5 527L1567.5 532.5L1569.5 532.5L1569.5 525" stroke="#40ffbf"/>
<path d="M1177.5 538L1177.5 548.5L1180 548.5L1180 537L1182 538L1182 543L1184 544L1184 540L1186 540L1186 545.5L1188 548.5L1188 540L1190 539.5L1190 544.5L1192 542.5L1192 538.5L1194 540L1194 542.5L1196 548.5L1196 539L1198 538L1198 545L1200 544L1200 539L1202 537.5L1202 545" stroke="#60ff9f"/>
<path d="M1206 538.5L1206 549.5L1208 552.5L1208 538.5L1210 540L1210 549L1211.5 549L1211.5 539.5" stroke="#60ff9f"/>
<path d="M1215.5 540.5L1215.5 543L1217.5 543.5L1217.5 540.5L1219.5 540L1219.5 544L1221.5 543L1221.5 540L1223.5 540L1223.5 546L1225.5 549L1225.5 540.5L1227.5 540.5L1227.5 545.5L1229.5 544L1229.5 539L1231.5 540.5L1231.5 542.5L1233.5 543L1233.5 540.5L1235.5 539.5L1235.5 543L1237.5 542.5L1237.5 540.5L1240 539.5L1240 542.5L1242 543L1242 539L1244 537L1244 545L1246 542.5L1246 537L1248 537L1248 543L1250 543L1250 540L1252 540L1252 545L1254 544L1254 540.5L1256 540.5L1256 543L1258 547.5L1258 540.5L1260 540.5L1260 546.5L1262 542.5L1262 540.5L1264 539L1264 543.5L1266 542.5L1266 539.5L1268 539.5L1268 542.5L1270 543.5L1270 540.5" stroke="#60ff9f"/>
<path d="M1332.5 523.5L1332.5 530L1334.5 531.5L1334.5 520.5L1336.5 524.5L1336.5 532.5L1338.5 531.5L1338.5 516.5L1340.5 515.5L1340.5 532.5L1342.5 533L1342.5 516L1344.5 524.5L1344.5 533L1347 532.5L1347 526L1349 526L1349 531" stroke="#60ff9f"/>
<path d="M1355 521L1355 532.5L1356.5 533L1356.5 522" stroke="#60ff9f"/>
<path d="M1360.5 528L1360.5 532L1363 533L1363 529L1365 527L1365 533L1367.5 531.5L1367.5 528.5L1369.5 529.5L1369.5 530.5L1371.5 531.5L1371.5 528" stroke="#60ff9f"/>
<path d="M1375.5 519L1375.5 531.5L1378 530.5L1378 516L1380 515L1380 532L1382 532.5L1382 514.5" stroke="#60ff9f"/>
<path d="M1386 512L1386 530L1388 531L1388 511.5L1390 509.5L1390 531L1392 530.5L1392 508L1394 510.5L1394 531.5L1396 531L1396 507L1397.5 507L1397.5 532L1399.5 533L1399.5 510.5L1401.5 515.5L1401.5 533" stroke="#60ff9f"/>
<path d="M1303 520.5L1303 542.5L1305 543.5L1305 517.5L1307 519.5L1307 546.5L1309.5 547L1309.5 516.5L1311.5 515L1311.5 551.5L1313.5 547L1313.5 514.5L1315.5 515.5L1315.5 547L1317.5 546L1317.5 514.5L1319.5 518.5L1319.5 556.5L1321.5 556.5L1321.5 521.5L1323.5 525L1323.5 553" stroke="#bfff40"/>
<path d="M1312 506L1312 533L1313 533L1313 506" stroke="#bfff40"/>
<path d="M1327.5 528.5L1327.5 545.5L1329.5 544L1329.5 530.5L1331.5 530.5L1331.5 543.5L1333.5 543L1333.5 530L1335.5 528L1335.5 546.5L1337.5 545L1337.5 527.5L1339.5 527.5L1339.5 541L1341.5 541L1341.5 529L1343.5 530.5L1343.5 543L1345.5 541.5L1345.5 531L1347 530L1347 542" stroke="#bfff40"/>
<path d="M1353 537L1353 545.5L1355 541.5L1355 536.5L1357 536.5L1357 543L1358.5 545.5L1358.5 536.5L1360.5 536.5L1360.5 546L1362.5 543L1362.5 536L1364.5 537L1364.5 543L1366.5 542.5L1366.5 536.5L1368.5 537L1368.5 544L1370.5 542L1370.5 536.5L1372.5 536.5L1372.5 542L1374.5 545L1374.5 536.5L1376.5 537L1376.5 545L1378.5 544L1378.5 536.5L1380.5 537L1380.5 542L1382.5 542L1382.5 536.5L1384.5 537L1384.5 546L1386.5 546L1386.5 536.5L1388.5 535.5L1388.5 543.5L1390 546L1390 536.5L1392 537L1392 546L1394 546L1394 537L1396 537L1396 545.5" stroke="#9fff60"/>
<path d="M1360.5 536L1360.5 553.5L1361.5 551L1361.5 535.5" stroke="#9fff60"/>
<path d="M1400 528L1400 541.5L1402 541.5L1402 527.5L1404 528.5L1404 541.5L1406 542L1406 530.5L1408 529.5L1408 542.5L1410 540.5L1410 528L1412 530L1412 538.5L1414 539.5L1414 531L1416 531L1416 538.5L1418 542L1418 531L1420 530.5L1420 541L1422 540L1422 530.5L1424 530.5L1424 541.5L1426 541.5L1426 530L1428 529L1428 542.5" stroke="#9fff60"/>
<path d="M1426 516L1426 533L1428 532L1428 516.5" stroke="#9fff60"/>
<path d="M1427.5 517.5L1427.5 527L1429.5 527L1429.5 517L1431.5 516.5L1431.5 527.5L1433 527.5L1433 517.5L1435 517.5L1435 529L1437 527.5L1437 517.5L1439 515.5L1439 527L1441 527L1441 513L1443 516.5L1443 527" stroke="#9fff60"/>
<path d="M1457 538.5L1457 554.5L1459 553L1459 540L1461 540.5L1461 553.5L1463 557L1463 539.5L1465 539.5L1465 552.5L1467 550.5L1467 539L1469 539L1469 555.5L1471 553L1471 538L1473 537.5L1473 551" stroke="#ff6000"/>
<path d="M1466 538L1466 567.5L1467 567.5L1467 537.5" stroke="#ff6000"/>
<path d="M1477 538.5L1477 548.5L1479 543.5L1479 540L1481 538.5L1481 546.5L1483.5 547L1483.5 538.5L1485.5 539.5L1485.5 544.5L1487.5 542.5L1487.5 537.5L1489.5 537.5L1489.5 541L1491.5 545L1491.5 538.5" stroke="#ff6000"/>
<path d="M1496 529.5L1496 546.5L1498 546.5L1498 528.5L1500 530L1500 544.5L1502 541L1502 528.5L1504 526.5L1504 544.5L1506 546.5L1506 525.5L1508 526.5L1508 541.5L1510 540.5L1510 528L1512 527.5L1512 537.5L1514 542.5L1514 526.5L1516 526.5L1516 539.5L1518 540.5L1518 527.5L1520 527L1520 539.5L1521.5 545.5L1521.5 526L1523.5 529L1523.5 541.5L1525.5 540L1525.5 527.5L1527.5 530L1527.5 539L1529.5 541L1529.5 529L1531.5 525.5L1531.5 537L1533.5 539L1533.5 527.5L1535.5 527L1535.5 542L1537.5 539.5L1537.5 528L1539.5 527.5L1539.5 541.5L1541.5 540L1541.5 530L1543.5 529.5L1543.5 540.5L1545.5 539L1545.5 529L1547.5 526.5L1547.5 541.5L1549.5 539L1549.5 525.5L1551.5 525.5L1551.5 541L1553.5 546L1553.5 527.5L1555 526.5L1555 545" stroke="#ff6000"/>
<path d="M1550 518L1550 542.5L1550 542.5L1550 518" stroke="#ff6000"/>
<path d="M1656.5 517.5L1656.5 532L1658.5 532L1658.5 519L1660 518.5L1660 531" stroke="#ff6000"/>
<path d="M1683 518.5L1683 530L1684.5 531.5L1684.5 516L1686.5 516.5L1686.5 533" stroke="#ff6000"/>
<path d="M1696 519L1696 533L1698.5 533L1698.5 519" stroke="#ff6000"/>
<path d="M1149 530L1149 538.5L1151 538L1151 528L1153 529L1153 540L1155 539.5L1155 526.5L1157 526.5L1157 539L1159 540L1159 529.5L1161 529.5L1161 539.5L1163 539.5L1163 529.5L1165 527.5L1165 540.5L1166.5 539L1166.5 528L1168.5 528.5L1168.5 536.5L1170.5 536.5L1170.5 527L1172.5 528L1172.5 536.5L1174.5 538.5L1174.5 529L1176.5 527L1176.5 539.5L1178.5 536.5L1178.5 529.5L1180.5 530L1180.5 537L1182.5 540.5L1182.5 529L1184.5 529.5L1184.5 540.5L1186.5 540.5L1186.5 529L1188.5 529L1188.5 540L1190.5 537L1190.5 529L1192.5 528L1192.5 537.5L1194.5 538L1194.5 528L1196 529.5L1196 538L1198 538L1198 526.5L1200 526.5L1200 538L1202 536.5L1202 527.5" stroke="#ff4000"/>
<path d="M1206 528.5L1206 548.5L1208 550.5L1208 526.5L1210 528.5L1210 550.5L1212 548.5L1212 530L1214 529L1214 549.5L1216 550L1216 530L1218 528.5L1218 549L1220 550.5L1220 526.5L1222 527.5L1222 550.5L1224 548L1224 527.5L1226 526.5L1226 547.5L1228 550.5L1228 528.5L1230 528.5L1230 549.5L1232 550L1232 527.5L1234 527L1234 549L1236 550.5L1236 530L1238 530L1238 547.5L1240 546.5L1240 528L1242 528.5L1242 546L1244 547L1244 530L1246 528L1246 546.5L1248 547.5L1248 526L1250 526L1250 547L1252 549.5L1252 527L1254 527L1254 548L1255.5 548.5L1255.5 529.5L1257.5 528.5L1257.5 549L1259.5 546L1259.5 526L1261.5 526.5L1261.5 546L1263.5 547L1263.5 526.5L1265.5 527.5L1265.5 548L1267.5 546.5L1267.5 526L1269.5 526L1269.5 547.5L1271.5 549.5L1271.5 529L1273.5 527.5L1273.5 550.5L1275.5 550L1275.5 526.5L1277.5 527.5L1277.5 546.5L1279.5 546L1279.5 528L1281.5 529.5L1281.5 549.5L1283.5 547.5L1283.5 527.5L1285.5 526.5L1285.5 547L1287.5 546.5L1287.5 526.5L1289.5 529.5L1289.5 549.5L1291.5 550.5L1291.5 530L1293.5 527.5L1293.5 550L1295.5 549L1295.5 526L1297.5 526L1297.5 550.5L1299.5 549L1299.5 527.5L1301.5 529L1301.5 548L1303.5 547.5L1303.5 528.5L1305.5 530L1305.5 549.5L1307.5 549L1307.5 528.5L1309.5 527.5L1309.5 548L1311.5 548.5L1311.5 528.5L1313.5 527.5L1313.5 546L1315.5 546L1315.5 528L1317 529.5L1317 548L1319 547.5L1319 527.5L1321 529.5L1321 549.5" stroke="#ff2000"/>
<path d="M1241 526L1241 535.5L1243 535.5L1243 521.5L1245 521L1245 537L1247 536L1247 527.5L1249 526.5L1249 535.5L1251 537L1251 527.5L1253 522.5L1253 536L1255 537L1255 527.5L1257 527.5L1257 537L1259 536L1259 527L1261 525.5L1261 536L1263 535.5L1263 520L1265 523.5L1265 535.5L1267 536.5L1267 525.5L1269 522L1269 538" stroke="#ff4000"/>
<path d="M1273 513.5L1273 537L1275 536L1275 517L1277 513.5L1277 537.5L1279 536L1279 514L1281 514L1281 536.5L1283 538L1283 517L1285 515.5L1285 537L1287 536L1287 523.5L1289 523.5L1289 537.5L1291 537L1291 521.5L1293 512.5L1293 537.5L1295 536.5L1295 515.5L1297 521.5L1297 535.5L1299 535.5L1299 519L1301 516L1301 537L1303 535.5L1303 515L1305 512.5L1305 536L1307 537L1307 512.5L1309 512.5L1309 536.5L1311 536.5L1311 519L1313 519.5L1313 536L1315 537L1315 516.5L1317 516.5L1317 536L1319 538L1319 519.5L1321 525.5L1321 537.5" stroke="#ff4000"/>
<path d="M1292 540.5L1292 558L1294 553.5L1294 539L1296.5 539L1296.5 550L1298.5 552.5L1298.5 540.5" stroke="#ff2000"/>
<path d="M1325 528.5L1325 537.5L1327 537.5L1327 527L1329 528L1329 536L1331 535.5L1331 529L1333 529L1333 535.5L1335 537.5L1335 526.5L1337 527L1337 537.5L1339 538L1339 526.5L1341 528L1341 537L1343 536.5L1343 528.5L1345 527.5L1345 537.5L1347 537L1347 528.5L1349 527.5L1349 537.5" stroke="#ff2000"/>
<path d="M1353 527L1353 536.5L1355 537L1355 528L1357 528L1357 536.5L1359 536.5L1359 527.5L1360.5 527L1360.5 537L1362.5 536.5L1362.5 526L1364.5 526.5L1364.5 538L1366.5 537L1366.5 526.5L1368.5 528.5L1368.5 536.5L1370.5 538L1370.5 528L1372.5 527L1372.5 538.5L1374.5 538.5L1374.5 527.5L1376.5 527.5L1376.5 538.5L1378.5 537L1378.5 527.5L1380.5 527L1380.5 537L1382.5 537L1382.5 529L1384.5 528.5L1384.5 537L1386.5 538L1386.5 527L1388.5 527L1388.5 538.5L1390.5 538.5L1390.5 529L1392.5 526.5L1392.5 537L1394.5 536.5L1394.5 528L1396.5 528.5L1396.5 538L1398.5 538.5L1398.5 528L1400.5 527L1400.5 538L1402.5 538L1402.5 529L1404.5 527.5L1404.5 537L1406 538L1406 526L1408 526L1408 537L1410 537L1410 526.5L1412 528L1412 536.5L1414 536.5L1414 527.5L1416 526L1416 537L1418 537.5L1418 527L1420 528.5L1420 538L1422 536.5L1422 527L1424 527.5L1424 538.5L1426 538.5L1426 529.5L1428 529L1428 537" stroke="#ff2000"/>
<path d="M1412 516.5L1412 546.5L1412.5 545L1412.5 517.5" stroke="#ff2000"/>
<path d="M1422 528.5L1422 537.5L1424 538L1424 528L1426 528L1426 537L1428 537L1428 526.5L1430 526L1430 537.5L1431.5 538L1431.5 528L1433.5 526L1433.5 537L1435.5 536L1435.5 527L1437.5 526L1437.5 535.5L1439.5 536L1439.5 527.5L1441.5 527L1441.5 537.5L1443.5 537.5L1443.5 529.5L1445.5 528.5L1445.5 537L1447 537.5L1447 526L1449 526L1449 537.5L1451 537.5L1451 527.5L1453 528L1453 536.5" stroke="#ff2000"/>
<path d="M1457 515.5L1457 535L1459 534L1459 515L1461 518L1461 533.5L1463 536.5L1463 520.5L1465 523L1465 533.5L1467 534L1467 520L1469 515L1469 537L1471 535L1471 519L1473 520.5L1473 533.5L1475 534.5L1475 520.5L1477 523L1477 537.5L1479 537L1479 523L1481 523L1481 534.5L1483 533.5L1483 523L1485 521L1485 533.5" stroke="#ff2000"/>
<path d="M1489 534L1489 536.5L1490.5 538.5L1490.5 534L1492 532L1492 538.5" stroke="#ff2000"/>
<path d="M1149 537L1149 549.5L1151 546L1151 537.5L1153.5 540L1153.5 545.5L1155.5 547L1155.5 538.5L1157.5 540.5L1157.5 544L1160 546L1160 540.5L1162 539.5L1162 549" stroke="#ff0000"/>
<path d="M1149 537L1149 555.5L1150 552L1150 537.5" stroke="#ff0000"/>
<path d="M1166 540L1166 548.5L1168 545.5L1168 537L1170 537.5L1170 543.5L1172 544.5L1172 537.5L1174 536.5L1174 543.5L1176 543.5L1176 536.5L1178 536.5L1178 543L1180 547.5L1180 536.5L1182 538L1182 544.5L1184 545.5L1184 537L1186 539L1186 547L1188 548L1188 538L1190 540L1190 548L1192 547.5L1192 540.5L1194 540.5L1194 547L1196 547.5L1196 540.5L1198 538L1198 544L1200 546.5L1200 539.5L1202 540.5L1202 547" stroke="#ff0000"/>
<path d="M1206 531L1206 548L1208 543.5L1208 532.5L1210 532.5L1210 547.5L1212 546L1212 530.5L1214 532L1214 542.5L1216 543L1216 530.5L1218 530L1218 545L1220.5 548L1220.5 532L1222.5 531L1222.5 546L1224.5 541.5L1224.5 531.5L1226.5 528.5L1226.5 541.5L1228.5 544.5L1228.5 529L1230.5 528.5L1230.5 547.5L1232.5 548.5L1232.5 528.5L1234.5 528.5L1234.5 548.5L1236.5 542L1236.5 529.5L1238.5 529.5L1238.5 542.5" stroke="#ff0000"/>
<path d="M1223.5 528L1223.5 557L1224 556.5L1224 530" stroke="#ff0000"/>
<path d="M1234 531.5L1234 557L1234 557.5L1234 528.5" stroke="#ff0000"/>
<path d="M1244.5 530.5L1244.5 544L1246 543L1246 530L1248 527.5L1248 542.5L1250 543L1250 530L1252 530L1252 542.5L1254 544L1254 529.5L1256 530L1256 545.5L1258 542.5L1258 530L1260 530.5L1260 544L1262 548.5L1262 526L1263.5 526L1263.5 549L1265.5 542.5L1265.5 528L1267.5 528.5L1267.5 543.5" stroke="#ff0000"/>
<path d="M1274 534.5L1274 547L1276 550.5L1276 533L1278 535.5L1278 550.5L1280 544L1280 535L1282 535.5L1282 543.5L1284 545.5L1284 533.5L1286 532.5L1286 544L1287.5 544.5L1287.5 532.5L1289.5 534.5L1289.5 542.5L1291.5 543L1291.5 531L1293.5 531L1293.5 543L1295.5 548.5L1295.5 532L1297.5 535L1297.5 544.5L1299.5 545.5L1299.5 535.5L1301.5 535.5L1301.5 543.5L1303.5 545L1303.5 535.5L1305.5 532.5L1305.5 547L1307.5 543L1307.5 535L1309.5 531L1309.5 543.5L1311.5 545.5L1311.5 531L1313.5 531L1313.5 546L1315.5 547.5L1315.5 535L1317.5 535.5L1317.5 548L1319 544L1319 535L1321 532.5L1321 547" stroke="#ff0000"/>
<path d="M1325 529L1325 547.5L1327 545.5L1327 528L1329 530.5L1329 546L1331 544.5L1331 529L1333 528L1333 541.5L1335 543L1335 530.5L1337 530L1337 543L1338.5 547L1338.5 529.5L1340.5 529L1340.5 542L1342.5 546.5L1342.5 529L1344.5 527L1344.5 548.5L1346.5 542L1346.5 529" stroke="#ff0000"/>
<path d="M1561 537.5L1561 549.5L1563 549L1563 537.5L1565 539.5L1565 548L1567 547.5L1567 540.5L1569 540L1569 546.5L1571 545L1571 539.5L1573 539.5L1573 548.5L1575 548L1575 540L1577 537.5L1577 548.5L1579 547L1579 539.5L1581.5 539.5L1581.5 545L1583.5 545.5L1583.5 539L1585.5 539.5L1585.5 546.5L1587.5 546.5L1587.5 539L1589.5 538.5L1589.5 548L1591.5 547L1591.5 538.5" stroke="#df0000"/>
<path d="M1564.5 538L1564.5 557.5L1565 556.5L1565 538" stroke="#df0000"/>
<path d="M1667.5 518L1667.5 530L1669.5 530L1669.5 518.5L1671.5 518.5L1671.5 530.5L1673.5 532.5L1673.5 521L1675.5 520.5L1675.5 533L1677.5 532.5L1677.5 517.5" stroke="#df0000"/>
<path d="M1695.5 536.5L1695.5 544.5L1697.5 545L1697.5 536L1699 537L1699 546.5L1701 548L1701 537L1702.5 536.5L1702.5 547.5" stroke="#df0000"/>
<path d="M1674.5 535.5L1674.5 546.5L1676.5 545.5L1676.5 536" stroke="#df0000"/>
<path d="M1558.5 524.5L1558.5 536.5L1560.5 536.5L1560.5 525L1562.5 524.5L1562.5 538L1564 538.5L1564 524L1566 524L1566 537L1568 537L1568 525.5" stroke="#9f0000"/>
<path d="M1658.5 527.5L1658.5 545L1658.5 545L1658.5 528" stroke="#df0000"/>
<path d="M1572 526.5L1572 539L1574 538.5L1574 526.5L1576 527.5L1576 538L1578 538L1578 528L1580 528L1580 539L1582 539L1582 527L1584.5 527.5L1584.5 538L1586.5 538.5L1586.5 526.5L1588.5 527.5L1588.5 538L1590.5 537L1590.5 527.5L1592.5 528.5L1592.5 538.5L1594.5 538.5L1594.5 528L1596.5 527L1596.5 539L1598.5 539L1598.5 527.5L1600.5 528.5L1600.5 539L1602.5 538L1602.5 528L1604.5 528L1604.5 538.5" stroke="#9f0000"/>
<path d="M1611 527.5L1611 538L1613 536.5L1613 527.5L1615 526.5L1615 536.5L1617 537L1617 528L1619 528L1619 537L1621 537L1621 526.5L1623 527.5L1623 538L1625 538L1625 528L1627 528.5L1627 537L1629 537L1629 528.5L1631 528.5L1631 536L1633 537L1633 528.5L1635 528L1635 538L1637 538L1637 527.5L1639 528L1639 536.5L1641 536.5L1641 528L1643 527.5L1643 536.5L1645 537L1645 527L1647 527L1647 538L1649 538L1649 526.5L1651 526L1651 538.5L1653 538.5L1653 526.5L1655 527.5L1655 538L1657 538L1657 527L1659 527.5L1659 536.5L1661 537.5L1661 528.5L1663 528.5L1663 538L1665 537.5L1665 527L1667 527L1667 538L1669 537L1669 526.5L1671 526.5L1671 537.5L1673 537L1673 526L1675 526.5L1675 537L1677 537.5L1677 527.5L1679 526.5L1679 537L1681 537.5L1681 527L1683 528L1683 537.5L1685 537.5L1685 528L1687 527L1687 538L1689 538.5L1689 527L1691 528.5L1691 538.5L1693 538L1693 528.5L1695 526.5L1695 536.5L1697 536.5L1697 526.5L1699 526L1699 536L1701 536L1701 526L1703 526.5L1703 536.5L1705 538L1705 526.5L1707 526.5L1707 536L1709 536L1709 527.5" stroke="#9f0000"/>
<path d="M1600 516.5L1600 536.5L1602 536.5L1602 516L1604.5 516L1604.5 536.5" stroke="#9f0000"/>
<path d="M1614 515.5L1614 534L1614 533L1614 515" stroke="#9f0000"/>
<path d="M1624 514L1624 536L1624.5 535.5L1624.5 515.5" stroke="#9f0000"/>
<path d="M1691 515.5L1691 536L1693 536.5L1693 516" stroke="#9f0000"/>
<path d="M1707.5 516.5L1707.5 536L1708 536L1708 516" stroke="#9f0000"/>
<path d="M1586 528.5L1586 547L1588.5 546L1588.5 528.5L1590.5 528.5L1590.5 547.5L1592.5 546L1592.5 528L1594.5 528.5L1594.5 545L1596.5 545.5L1596.5 528.5L1598.5 528L1598.5 546L1600.5 549L1600.5 527.5L1602.5 528.5L1602.5 548.5" stroke="#9f0000"/>
<path d="M1612 528.5L1612 549.5L1612 549.5L1612 528.5" stroke="#9f0000"/>
<path d="M1617 528L1617 547L1619 547L1619 529L1621 529L1621 545L1623 543L1623 529.5L1625 529L1625 543.5" stroke="#9f0000"/>
<path d="M1636.5 528.5L1636.5 547.5L1636.5 547L1636.5 528" stroke="#9f0000"/>
<path d="M1646.5 528L1646.5 548.5L1647 548.5L1647 528" stroke="#9f0000"/>
<path d="M1655.5 528L1655.5 546L1655.5 546L1655.5 528" stroke="#9f0000"/>
<path d="M1692 528L1692 547L1692 547.5L1692 528.5" stroke="#9f0000"/>
<path d="M1697 528L1697 546L1699.5 549L1699.5 528.5L1702 529L1702 549" stroke="#9f0000"/>
</g>
<g id="s4" fill="none" stroke-width="4" stroke-linejoin="round" stroke-linecap="round">
<path d="M1541 908L1541 918L1543 918.5L1543 906.5L1545 906L1545 918" stroke="#0000bf"/>
<path d="M1583 896L1583 918L1585.5 918.5L1585.5 896" stroke="#0000bf"/>
<path d="M1593 903.5L1593 918.5L1595.5 918.5L1595.5 904.5" stroke="#0000bf"/>
<path d="M1631 910.5L1631 918L1631 918.5L1631 910" stroke="#0000bf"/>
<path d="M1643.5 911L1643.5 918.5L1644.5 918L1644.5 910" stroke="#0000bf"/>
<path d="M1652.5 909L1652.5 918.5L1654 918L1654 909" stroke="#0000bf"/>
<path d="M1658 899.5L1658 918.5L1658 918.5L1658 899.5" stroke="#0000bf"/>
<path d="M1147.5 921.5L1147.5 922.5L1147.5 922.5L1147.5 921.5" stroke="#0020ff"/>
<path d="M1165 906.5L1165 911.5L1167 912L1167 907.5L1169 906.5L1169 912L1171 910.5L1171 907L1173 907L1173 911L1175 910L1175 907.5L1177 907L1177 909L1179 910L1179 907" stroke="#0020ff"/>
<path d="M1186 908L1186 912L1188 912.5L1188 906.5L1189.5 908.5L1189.5 912L1191.5 913L1191.5 909.5L1193 908L1193 913.5" stroke="#0020ff"/>
<path d="M1189 893L1189 909L1190 908.5L1190 892.5" stroke="#0020ff"/>
<path d="M1146.5 910.5L1146.5 916.5L1149 919L1149 907.5L1151 911L1151 918.5L1153 915.5L1153 911.5L1155.5 907L1155.5 915.5L1157.5 919.5L1157.5 910L1159.5 909.5L1159.5 918.5L1161.5 917L1161.5 911" stroke="#0080ff"/>
<path d="M1150.5 901.5L1150.5 911.5L1151 911.5L1151 901" stroke="#0080ff"/>
<path d="M1160 902L1160 912L1161 911L1161 900.5" stroke="#0080ff"/>
<path d="M1165.5 913L1165.5 919L1167.5 917.5L1167.5 913L1170 916L1170 920.5L1172 919.5L1172 916L1174 916L1174 920.5L1176 920L1176 916L1178 915.5L1178 921L1180 920.5L1180 912L1182 911.5L1182 920.5L1184 919L1184 915L1186 912L1186 917.5L1188 920.5L1188 911.5L1190 912L1190 919.5L1192.5 919.5L1192.5 911L1194.5 913.5L1194.5 918L1196.5 919.5L1196.5 911.5" stroke="#0080ff"/>
<path d="M1200 902L1200 914.5L1201.5 915L1201.5 900" stroke="#0080ff"/>
<path d="M1205.5 905.5L1205.5 913.5L1208.5 915L1208.5 905.5" stroke="#0080ff"/>
<path d="M1232 905L1232 912.5L1234 914L1234 902L1236 903.5L1236 915.5L1238.5 915L1238.5 908.5" stroke="#0080ff"/>
<path d="M1245 911L1245 915L1247 914.5L1247 912.5" stroke="#0080ff"/>
<path d="M1178 905L1178 911.5L1179.5 910.5L1179.5 904.5" stroke="#60ff9f"/>
<path d="M1193 912.5L1193 916.5L1195 917L1195 912.5L1197 913L1197 916" stroke="#60ff9f"/>
<path d="M1208 909.5L1208 915L1209 915L1209 909" stroke="#60ff9f"/>
<path d="M1232.5 920.5L1232.5 920.5L1234.5 921.5L1234.5 920L1236.5 920.5L1236.5 921L1238.5 921.5L1238.5 921L1240.5 921L1240.5 921L1242.5 920.5L1242.5 920.5L1244.5 920L1244.5 921.5L1246.5 921L1246.5 920.5L1248.5 920.5L1248.5 920.5L1250.5 921.5L1250.5 921L1252.5 921L1252.5 921L1254.5 922L1254.5 921L1256.5 920.5L1256.5 921L1258.5 920.5L1258.5 920.5L1260.5 920.5L1260.5 921.5L1262.5 921L1262.5 920.5L1264.5 920.5L1264.5 921.5L1266.5 920.5L1266.5 920.5L1268 920.5L1268 921L1270 920.5L1270 920.5L1272 920.5L1272 920.5L1274 920.5L1274 920.5L1276 920.5L1276 921.5L1278 921L1278 921L1280 920.5L1280 922L1282 921L1282 920.5L1284 920.5L1284 922L1286 921L1286 921L1288 920.5L1288 921" stroke="#60ff9f"/>
<path d="M1442 919L1442 920L1444 920L1444 918L1446 920L1446 921L1448 920L1448 919L1450 918.5L1450 919.5L1452 920L1452 919.5L1454 918L1454 920L1456 920L1456 917.5L1458 918.5L1458 920.5L1460 921L1460 919.5L1462.5 920L1462.5 920.5L1464.5 921L1464.5 919.5L1466.5 918L1466.5 920.5L1468.5 920L1468.5 917L1470.5 917.5L1470.5 919.5L1472.5 919.5L1472.5 918L1474.5 918.5L1474.5 919.5L1476.5 920L1476.5 920L1478.5 920.5L1478.5 920.5L1480.5 920.5L1480.5 920.5L1482.5 918L1482.5 920L1484.5 920.5L1484.5 919L1486.5 919L1486.5 921L1488.5 920.5L1488.5 917.5L1490.5 917L1490.5 919.5L1492.5 920.5L1492.5 917L1494.5 918L1494.5 921L1496.5 920.5L1496.5 918L1498.5 919.5L1498.5 920.5L1500.5 920L1500.5 919.5L1503 917.5L1503 920.5L1505 920L1505 918L1507 919L1507 921L1509 921L1509 920L1511 918L1511 921L1513 920L1513 919.5L1515 919L1515 920L1517 920.5L1517 919L1519 918L1519 920.5" stroke="#009fff"/>
<path d="M1454.5 907L1454.5 918.5L1456 919.5L1456 906.5" stroke="#009fff"/>
<path d="M1493 910L1493 920L1495.5 920L1495.5 912" stroke="#009fff"/>
<path d="M1511 909.5L1511 920L1513 919.5L1513 907L1515 904.5L1515 919.5" stroke="#009fff"/>
<path d="M1442 915.5L1442 920L1444 919.5L1444 914.5L1446 915L1446 920L1448 919.5L1448 914.5L1450 918.5L1450 919L1452 919L1452 918L1454 918.5L1454 919.5L1456 920.5L1456 918L1458 915.5L1458 920.5L1460 919.5L1460 914L1462 914L1462 920L1464 919.5L1464 917.5L1466 916.5L1466 919L1468 919L1468 916.5L1470 915.5L1470 920L1472 920L1472 914.5L1474 914L1474 920.5L1476 920L1476 914L1478.5 918L1478.5 920L1480.5 920L1480.5 916L1482.5 918.5L1482.5 919.5L1484.5 919.5L1484.5 917.5L1486.5 916L1486.5 919L1488.5 919L1488.5 917L1490.5 916.5L1490.5 919L1492.5 919.5L1492.5 918L1494.5 918L1494.5 919.5L1496.5 919.5L1496.5 919L1498.5 919L1498.5 920L1500.5 920.5L1500.5 918.5L1502.5 916L1502.5 919L1504.5 919.5L1504.5 918.5L1506.5 917L1506.5 920L1508.5 919.5L1508.5 917L1510.5 919L1510.5 920.5L1512.5 920.5L1512.5 918L1514.5 918.5L1514.5 920.5L1516.5 919.5L1516.5 916.5L1518.5 917.5L1518.5 919L1520.5 919.5L1520.5 919" stroke="#00ffff"/>
<path d="M1449 908.5L1449 920L1449 919.5L1449 909" stroke="#00ffff"/>
<path d="M1551.5 904.5L1551.5 920L1553.5 919.5L1553.5 911L1555.5 910L1555.5 919L1557.5 918.5L1557.5 911L1559.5 911L1559.5 918.5L1561.5 919L1561.5 911L1563.5 910.5L1563.5 919L1565.5 918.5L1565.5 910.5L1567.5 907.5L1567.5 919L1569.5 919L1569.5 910L1571.5 910.5L1571.5 920L1573.5 919L1573.5 910.5L1575.5 907.5L1575.5 919L1577.5 919.5L1577.5 910L1579.5 911L1579.5 919.5L1581.5 918.5L1581.5 908L1583.5 911L1583.5 919L1585.5 919L1585.5 909.5L1587.5 909L1587.5 918.5L1589.5 919.5L1589.5 910.5L1591.5 909.5L1591.5 919L1593.5 918.5L1593.5 911L1595.5 904L1595.5 918.5L1597.5 918.5L1597.5 904.5L1599.5 909L1599.5 918.5L1601.5 919L1601.5 910.5L1603.5 907L1603.5 918.5L1605.5 918.5L1605.5 905L1607.5 911L1607.5 919.5L1609.5 919.5L1609.5 910.5L1611.5 910.5L1611.5 918.5L1613.5 920L1613.5 906.5L1615.5 909L1615.5 920L1617.5 920L1617.5 910.5L1619.5 910.5L1619.5 920L1621.5 920L1621.5 911L1623.5 908.5L1623.5 920L1625.5 920L1625.5 909L1627.5 910.5L1627.5 918.5L1629.5 919.5L1629.5 910.5" stroke="#00ffff"/>
<path d="M1603.5 900.5L1603.5 919.5L1605 920L1605 902" stroke="#00ffff"/>
<path d="M1622.5 906L1622.5 919.5L1624 919L1624 903L1626 906L1626 919L1628 918.5L1628 903" stroke="#00ffff"/>
<path d="M1523 908.5L1523 919L1525 919.5L1525 912L1527 911L1527 918.5L1529 919L1529 908L1531 911.5L1531 919L1533 919.5L1533 907L1535 907L1535 919.5L1537 919.5L1537 911L1539 911.5L1539 919.5L1541 919L1541 906L1543 906.5L1543 919L1545 919.5L1545 912L1547 913.5L1547 919.5L1549 920L1549 907.5L1551 907L1551 919L1553 919L1553 912L1554.5 909.5L1554.5 920L1556.5 920L1556.5 909.5L1558.5 911L1558.5 920L1560.5 919.5L1560.5 912L1562.5 907L1562.5 919.5L1564.5 919.5L1564.5 906" stroke="#40ffbf"/>
<path d="M1553 902L1553 920L1553.5 919L1553.5 901" stroke="#40ffbf"/>
<path d="M1561 900.5L1561 918.5L1562.5 919.5L1562.5 899.5" stroke="#40ffbf"/>
<path d="M1442.5 912.5L1442.5 920L1443 919.5L1443 911.5" stroke="#9fff60"/>
<path d="M1461.5 891.5L1461.5 918L1463 917.5L1463 891.5" stroke="#ff6000"/>
<path d="M1467 886L1467 917.5L1467.5 917L1467.5 886" stroke="#ff6000"/>
<path d="M1474 916L1474 921L1476 921L1476 916L1478 917L1478 922L1480 921.5L1480 917.5L1482 916L1482 921L1484 921L1484 916.5L1486 918.5L1486 920.5L1488 920.5L1488 918.5L1490 918.5L1490 921L1492 920.5L1492 918L1494 916L1494 921L1496 920.5L1496 918L1498.5 918.5L1498.5 921L1500.5 921.5L1500.5 917.5L1502.5 918L1502.5 922L1504.5 921L1504.5 916.5L1506.5 916L1506.5 921.5" stroke="#ff6000"/>
<path d="M1510.5 919.5L1510.5 921L1512.5 921.5L1512.5 916L1514.5 917.5L1514.5 921.5L1516.5 920.5L1516.5 916.5L1518.5 916L1518.5 920.5L1520.5 921.5L1520.5 917.5L1522.5 917.5L1522.5 921L1524.5 922L1524.5 919.5L1526.5 916.5L1526.5 922.5L1528.5 922L1528.5 917.5L1530.5 918.5L1530.5 922.5L1533 922L1533 918L1535 917.5L1535 921L1537 922L1537 917.5L1539 917L1539 921.5L1541 922L1541 917L1543 917.5L1543 921.5L1545 920.5L1545 920L1547 919L1547 921.5L1549 920.5L1549 916L1551 916L1551 921L1553 921.5L1553 916L1555 915.5L1555 921.5" stroke="#ff6000"/>
<path d="M1519 912.5L1519 921L1519.5 921L1519.5 912" stroke="#ff6000"/>
<path d="M1559 917L1559 921.5L1561 921L1561 917.5L1563 919.5L1563 920.5L1565 920.5L1565 918L1567.5 918L1567.5 921L1569.5 922L1569.5 919L1571.5 918L1571.5 922L1573.5 922L1573.5 920L1575.5 920.5L1575.5 922.5L1577.5 921.5L1577.5 919.5L1579.5 919L1579.5 920.5L1581.5 922L1581.5 917.5L1583.5 919L1583.5 921.5L1585.5 922L1585.5 919L1587.5 917L1587.5 921L1589.5 920.5L1589.5 917L1591.5 918L1591.5 920.5L1593.5 921L1593.5 920L1595.5 918.5L1595.5 921.5L1597.5 920.5L1597.5 918.5L1599.5 920L1599.5 921L1601.5 920.5L1601.5 920L1603.5 919.5L1603.5 920.5L1605.5 922L1605.5 919L1607.5 917.5L1607.5 921L1609.5 922L1609.5 918L1611.5 919L1611.5 921L1613.5 920.5L1613.5 917L1615.5 918L1615.5 921L1617.5 921L1617.5 919L1619.5 918.5L1619.5 920.5L1621.5 920.5L1621.5 919L1623.5 918L1623.5 921.5L1625.5 921.5L1625.5 918.5L1627.5 920.5L1627.5 922L1629.5 921.5L1629.5 920.5L1631.5 920L1631.5 921.5L1633.5 920.5L1633.5 919L1635.5 919.5L1635.5 921L1637.5 921L1637.5 918.5L1639.5 918L1639.5 922L1641.5 922L1641.5 918L1643.5 919L1643.5 922L1645.5 921L1645.5 918.5L1647.5 919.5L1647.5 920.5L1649.5 920.5L1649.5 919.5L1651.5 917.5L1651.5 920.5L1653.5 921L1653.5 919L1655.5 917.5L1655.5 920.5L1657.5 920.5L1657.5 917.5L1659.5 917.5L1659.5 921.5L1661.5 922.5L1661.5 920L1663.5 920L1663.5 922.5L1665.5 921L1665.5 920L1667.5 918L1667.5 921L1669.5 921.5L1669.5 919.5L1671.5 920.5L1671.5 921L1673.5 922L1673.5 918.5L1675.5 917.5L1675.5 921L1677.5 920.5L1677.5 918.5L1679.5 918L1679.5 921L1681.5 921.5L1681.5 919.5L1683.5 918L1683.5 922L1685.5 922L1685.5 918L1687.5 918.5L1687.5 922L1689.5 920.5L1689.5 918.5L1691.5 919L1691.5 920.5L1693.5 920.5L1693.5 918.5L1695.5 920L1695.5 920.5L1698 920.5L1698 918.5L1700 919.5L1700 921.5L1702 921.5L1702 918.5L1704 918L1704 922.5L1706 922L1706 917L1708 919L1708 921.5L1710 921L1710 918" stroke="#ff6000"/>
<path d="M1693.5 909.5L1693.5 919L1695.5 918.5L1695.5 908L1698 909.5L1698 919" stroke="#ff6000"/>
<path d="M1441.5 916.5L1441.5 916.5L1443.5 917.5L1443.5 915.5L1446 913L1446 916.5L1448 916.5L1448 913.5L1450 915.5L1450 917L1452 917L1452 914L1454 914L1454 916L1456 915.5L1456 913L1458 914.5L1458 915.5L1460 917L1460 916L1462 914.5L1462 917L1464 915.5L1464 914L1466 913.5L1466 916L1468 917.5L1468 914.5L1470 913.5L1470 918" stroke="#ff2000"/>
<path d="M1474 908L1474 915.5L1476 915L1476 908L1478 907.5L1478 914.5L1480 914.5L1480 910L1482 911L1482 915.5L1484 914.5L1484 912.5L1486 911L1486 914.5" stroke="#ff2000"/>
<path d="M1478 896L1478 918.5L1479 918L1479 896.5" stroke="#ff2000"/>
<path d="M1180.5 909L1180.5 913.5L1182.5 913.5L1182.5 910.5L1184.5 910L1184.5 913.5L1186.5 914.5L1186.5 911L1188.5 910L1188.5 914" stroke="#ff4000"/>
<path d="M1151.5 919.5L1151.5 920.5L1153.5 920.5L1153.5 919.5L1155.5 919.5L1155.5 921.5L1157.5 921L1157.5 920L1159.5 920L1159.5 921L1161.5 921.5L1161.5 920L1163.5 919L1163.5 919.5L1166 920L1166 919L1168 920L1168 922L1170 922L1170 920L1172 920L1172 921L1174 921.5L1174 920.5L1176 920L1176 921L1178 922L1178 919L1180 919L1180 921L1182 920.5L1182 919.5" stroke="#ff4000"/>
<path d="M1213.5 900L1213.5 913.5L1215.5 913L1215.5 900.5L1217 901L1217 913L1219 913.5L1219 901.5L1221 899.5L1221 914L1223 914L1223 898.5L1225 900L1225 914.5" stroke="#ff2000"/>
<path d="M1229 912L1229 918.5L1231 919.5L1231 913.5L1233 911L1233 919.5L1235 920.5L1235 914L1237 910.5L1237 919L1239 921L1239 913L1241 909.5L1241 921L1243 920L1243 910.5L1245 911.5L1245 920.5L1247 919.5L1247 913.5L1249 914L1249 919L1251 919.5L1251 910L1253 913.5L1253 920L1255 920L1255 913L1257 916L1257 921L1259 921L1259 914L1261 915L1261 921L1263.5 919.5L1263.5 911.5L1265.5 911.5L1265.5 920L1267.5 919L1267.5 909.5" stroke="#ff2000"/>
<path d="M1146.5 915.5L1146.5 920L1148 919.5L1148 914L1149.5 913.5L1149.5 920.5L1151.5 920.5L1151.5 912.5L1153 911L1153 920.5L1154.5 920.5L1154.5 910.5L1156 907L1156 919L1157.5 919.5L1157.5 905.5L1159 906L1159 920.5L1160.5 919L1160.5 916L1162 916.5L1162 920.5L1163.5 920.5L1163.5 914L1165 913.5L1165 920L1166.5 919.5L1166.5 913L1168 912L1168 920L1169.5 920.5L1169.5 912L1171 911L1171 919L1172.5 919L1172.5 908L1174 909L1174 920.5L1175.5 920.5L1175.5 913L1177 914.5L1177 920.5L1178.5 920L1178.5 916L1180 916L1180 920L1181.5 919.5L1181.5 916.5L1183 917L1183 918.5L1184.5 918.5L1184.5 918.5L1186 919L1186 919L1187.5 919.5L1187.5 919L1189 919L1189 920L1190.5 920.5L1190.5 920.5L1192 920.5L1192 920.5L1193.5 920.5L1193.5 920.5L1195 920L1195 920L1196.5 919L1196.5 919L1198 918.5L1198 920.5L1199.5 920.5L1199.5 917.5L1201 918L1201 920L1202.5 920.5L1202.5 917.5L1204 915.5L1204 920L1205.5 920L1205.5 916L1207 916L1207 919L1208.5 918.5L1208.5 918.5L1210 919L1210 919.5L1211.5 918.5L1211.5 918L1213 918L1213 919L1214.5 919L1214.5 918L1216 917.5L1216 919L1217.5 920.5L1217.5 918.5L1219 920.5L1219 920.5L1220.5 919.5L1220.5 919.5L1222 917L1222 920L1223.5 920.5L1223.5 917.5L1225 918.5L1225 920L1226.5 920.5L1226.5 920.5L1228 920.5L1228 920.5L1229.5 920.5L1229.5 920.5L1231 919L1231 920.5L1232.5 920.5L1232.5 919L1234 920.5L1234 920.5L1235.5 920.5L1235.5 920L1237 921L1237 921L1238.5 920.5L1238.5 920.5L1240.5 920L1240.5 920L1242 921L1242 921L1243.5 920.5L1243.5 920.5L1245 919.5L1245 919.5L1246.5 920L1246.5 920L1248 919L1248 918.5L1249.5 918.5L1249.5 919L1251 919L1251 918.5L1252.5 920.5L1252.5 920.5L1254 920.5L1254 920L1255.5 918L1255.5 920.5L1257 919L1257 919L1258.5 918.5L1258.5 919L1260 919L1260 912L1261.5 907.5L1261.5 918.5L1263 919.5L1263 904L1264.5 902.5L1264.5 920.5L1266 920.5L1266 906.5L1267.5 909.5L1267.5 920.5L1269 920L1269 911" stroke="#ff0000"/>
<path d="M1275.5 911.5L1275.5 918.5L1277.5 919L1277.5 910.5L1279.5 910.5L1279.5 919.5L1281.5 920.5L1281.5 910.5L1284 911L1284 919L1286 919L1286 913L1288 912L1288 919.5" stroke="#ff0000"/>
<path d="M1559 909.5L1559 914L1561 914.5L1561 912L1563.5 908.5L1563.5 916L1565.5 917L1565.5 909L1567.5 909.5L1567.5 917L1569.5 917L1569.5 909.5L1571.5 912L1571.5 917L1573.5 917L1573.5 910L1575.5 910.5L1575.5 915L1577.5 914.5L1577.5 911.5L1579.5 909.5L1579.5 914L1581.5 916L1581.5 909L1583.5 909.5L1583.5 916L1585.5 914.5L1585.5 912.5L1587.5 912.5L1587.5 914L1589.5 914L1589.5 911.5L1591.5 911L1591.5 914.5L1593.5 916L1593.5 912L1595.5 910L1595.5 915.5L1597.5 916.5L1597.5 911L1599.5 910.5L1599.5 914.5L1601.5 916.5L1601.5 911.5L1603.5 908.5L1603.5 916L1605.5 914.5L1605.5 909.5L1607.5 909.5L1607.5 915.5L1609.5 916.5L1609.5 908.5L1611.5 910L1611.5 915L1613.5 916.5L1613.5 909.5L1615.5 908.5L1615.5 915L1617.5 915.5L1617.5 912L1619.5 911L1619.5 914.5L1621.5 916L1621.5 909L1623.5 909.5L1623.5 914.5L1626 915L1626 909L1628 911L1628 917" stroke="#df0000"/>
<path d="M1562.5 902L1562.5 917L1563.5 915.5L1563.5 902" stroke="#df0000"/>
<path d="M1578 898L1578 917L1579 916.5L1579 898.5" stroke="#df0000"/>
<path d="M1601 902L1601 916.5L1602 916L1602 901.5" stroke="#df0000"/>
<path d="M1632 919.5L1632 919.5L1634 919.5L1634 919.5L1636 919L1636 919L1638 919.5L1638 919.5L1640 917.5L1640 919L1642 919L1642 918.5L1644 919L1644 919L1646 919L1646 917.5L1648 918L1648 919L1650 918.5L1650 918.5L1652 917.5L1652 918.5L1654 919L1654 918L1656 920L1656 920L1658 919.5L1658 919.5L1660 919.5L1660 919.5L1662 919.5L1662 919.5L1664 919.5L1664 919.5L1666 919.5L1666 919.5L1668 919.5L1668 919.5L1670 920L1670 920L1672 918.5L1672 919.5L1674 919L1674 919L1676 919L1676 919L1678 919.5L1678 919.5L1680 918.5L1680 918.5L1682 919L1682 919L1684 919.5L1684 919.5L1686 919L1686 919L1688 917.5L1688 919.5L1690 919.5L1690 917.5L1692 918.5L1692 918.5L1694 919.5L1694 918L1696 918L1696 919.5L1698 919.5L1698 919L1700 919.5L1700 919.5L1702 919.5L1702 918.5L1704 918L1704 919.5L1706 919L1706 918L1708 917.5L1708 918.5L1710 918.5L1710 918.5" stroke="#df0000"/>
<path d="M1558.5 914.5L1558.5 917.5L1560.5 918.5L1560.5 914.5L1562.5 912.5L1562.5 917.5L1564.5 917.5L1564.5 912.5L1566.5 912.5L1566.5 918L1568.5 918.5L1568.5 912.5L1570.5 916L1570.5 918.5L1572.5 918.5L1572.5 913.5L1574.5 916.5L1574.5 917L1576.5 918L1576.5 917L1578.5 917L1578.5 918.5L1580.5 917L1580.5 915L1582.5 915L1582.5 918L1584.5 918.5L1584.5 915L1586.5 916.5L1586.5 917.5L1588.5 917L1588.5 914.5L1590.5 915L1590.5 918L1592.5 918.5L1592.5 913.5L1594.5 916.5L1594.5 917.5L1596.5 917L1596.5 915.5L1598.5 914L1598.5 917.5L1600 916.5L1600 915.5L1602 916.5L1602 916.5L1604 917.5L1604 917L1606 913.5L1606 917L1608 917L1608 914L1610 913L1610 917.5L1612 918L1612 913L1614 914L1614 918.5L1616 917.5L1616 917L1618 916L1618 917L1620 917.5L1620 914L1622 912.5L1622 918.5L1624 918L1624 914.5L1626 913L1626 917L1628 916L1628 914L1630 913L1630 917L1632 918L1632 914L1634 916.5L1634 917" stroke="#9f0000"/>
<path d="M1638 916L1638 916.5L1640 917.5L1640 914L1642 910.5L1642 918L1644 918.5L1644 912L1646 911L1646 917L1648 916.5L1648 910L1650 910.5L1650 916.5L1652 918L1652 917L1654 916.5L1654 918.5L1656 919L1656 913L1658 915L1658 918.5L1660 917.5L1660 910L1661.5 910L1661.5 917L1663.5 917.5L1663.5 912.5L1665.5 911L1665.5 917.5L1667.5 917.5L1667.5 916L1669.5 912.5L1669.5 918L1671.5 917.5L1671.5 910.5L1673.5 910L1673.5 918.5L1675.5 918.5L1675.5 916L1677.5 914.5L1677.5 917L1679.5 917.5L1679.5 914L1681.5 914.5L1681.5 918.5L1683.5 917.5L1683.5 915L1685.5 912.5L1685.5 918.5L1687.5 917L1687.5 914.5L1689.5 916.5L1689.5 917L1691.5 918L1691.5 912L1693 914L1693 918L1695 917.5L1695 915.5L1697 916.5L1697 917L1699 916.5L1699 916.5L1701 917L1701 918.5" stroke="#9f0000"/>
<path d="M1638 909.5L1638 917.5L1639 918L1639 909.5" stroke="#9f0000"/>
<path d="M1661.5 911L1661.5 918L1663.5 918.5L1663.5 911" stroke="#9f0000"/>
<path d="M1674 910.5L1674 918L1674 918.5L1674 910.5" stroke="#9f0000"/>
<path d="M1682.5 908L1682.5 917.5L1683.5 918.5L1683.5 908" stroke="#9f0000"/>
<path d="M1704.5 901L1704.5 918.5L1706 918.5L1706 894.5L1708 895L1708 918L1710 918L1710 900" stroke="#9f0000"/>
<path d="M1292 907.5L1292 914.5L1293.5 915L1293.5 908" stroke="#0080ff"/>
<path d="M1336 919.5L1336 921.5L1338 921L1338 920.5L1340 919.5L1340 921.5L1342 920.5L1342 919.5L1344 920.5L1344 921L1345.5 919.5L1345.5 919.5L1347.5 920L1347.5 920L1349.5 920.5L1349.5 920.5" stroke="#009fff"/>
<path d="M1353.5 919L1353.5 919.5L1355.5 920L1355.5 920L1357.5 919L1357.5 921L1359.5 920L1359.5 918.5L1361.5 918.5L1361.5 920L1363.5 919.5L1363.5 918.5" stroke="#009fff"/>
<path d="M1372.5 921L1372.5 921.5L1374.5 921.5L1374.5 921.5L1376.5 921L1376.5 921L1378.5 921L1378.5 921" stroke="#009fff"/>
<path d="M1386 921.5L1386 921.5L1388 921L1388 921L1389.5 921L1389.5 921L1391.5 921.5L1391.5 920.5L1393.5 920L1393.5 921.5L1395.5 921L1395.5 921L1397.5 920.5L1397.5 921.5L1399.5 921L1399.5 921L1401.5 921L1401.5 921.5L1403.5 921L1403.5 921L1405 921L1405 921.5L1407 920L1407 920L1409 920L1409 920L1411 921L1411 920.5" stroke="#009fff"/>
<path d="M1426 921.5L1426 921.5L1428 922L1428 921.5L1430 921.5L1430 921.5L1432 922L1432 922L1434 922L1434 922L1436 922L1436 922L1438 921.5L1438 921.5" stroke="#009fff"/>
<path d="M1390 885.5L1390 896.5L1391 896.5L1391 885" stroke="#00ffff"/>
<path d="M1401 903L1401 908.5L1402.5 906.5L1402.5 902.5L1404.5 901.5L1404.5 906.5L1406.5 906.5L1406.5 902.5" stroke="#00ffff"/>
<path d="M1410.5 903L1410.5 908L1411 907L1411 902.5" stroke="#00ffff"/>
<path d="M1418 918L1418 919L1420.5 918.5L1420.5 918" stroke="#00ffff"/>
<path d="M1431 919.5L1431 920L1432.5 920L1432.5 919.5L1434.5 920L1434.5 920L1436 920L1436 920L1438 920L1438 920" stroke="#00ffff"/>
<path d="M1434 917L1434 918.5L1435 918L1435 917" stroke="#40ffbf"/>
<path d="M1305 910L1305 910.5L1306.5 910L1306.5 910" stroke="#60ff9f"/>
<path d="M1323.5 917.5L1323.5 918.5L1325.5 919L1325.5 916.5L1327.5 916.5L1327.5 920.5L1329 918.5L1329 917L1331 917L1331 920.5" stroke="#60ff9f"/>
<path d="M1359 901L1359 914.5L1361.5 915L1361.5 906" stroke="#60ff9f"/>
<path d="M1376.5 904.5L1376.5 907.5L1378.5 908.5L1378.5 904L1380.5 903L1380.5 908L1382.5 907.5L1382.5 902.5L1384.5 900.5L1384.5 906L1386.5 906L1386.5 899.5" stroke="#60ff9f"/>
<path d="M1390.5 898L1390.5 908.5L1392.5 908.5L1392.5 899" stroke="#60ff9f"/>
<path d="M1397 901L1397 906.5L1398.5 904.5L1398.5 899L1400.5 899L1400.5 905.5L1402 906L1402 898" stroke="#60ff9f"/>
<path d="M1314.5 903L1314.5 909L1317 908.5L1317 904.5L1319 903L1319 907.5" stroke="#9fff60"/>
<path d="M1324.5 905L1324.5 908.5L1327 906.5L1327 904L1329 903.5L1329 906" stroke="#9fff60"/>
<path d="M1350.5 903.5L1350.5 913.5L1350.5 913.5L1350.5 903.5" stroke="#9fff60"/>
<path d="M1354.5 892.5L1354.5 908L1355 909L1355 893" stroke="#9fff60"/>
<path d="M1365 906.5L1365 912.5L1367 911L1367 906L1369.5 904.5L1369.5 911L1372 912L1372 903.5" stroke="#9fff60"/>
<path d="M1378 911L1378 914L1378 914L1378 911" stroke="#9fff60"/>
<path d="M1358 917L1358 918.5L1360.5 917.5L1360.5 916.5L1362.5 916.5L1362.5 917.5L1364.5 917.5L1364.5 916.5L1367 917L1367 918.5" stroke="#9fff60"/>
<path d="M1379 916L1379 918.5L1381 919.5L1381 915L1383 915L1383 919L1385 919L1385 917L1387 917L1387 919L1389 918.5L1389 916.5L1391 916L1391 918L1393 918.5L1393 915.5L1395 915L1395 918.5L1397 919.5L1397 916L1399 916L1399 919.5L1401 919.5L1401 916L1403 915L1403 919L1405 918.5L1405 915.5L1407 916.5L1407 919L1409 918.5L1409 916L1411 916.5L1411 919L1413.5 918.5L1413.5 917L1415.5 916.5L1415.5 918L1417.5 918L1417.5 916" stroke="#9fff60"/>
<path d="M1410.5 906.5L1410.5 911.5L1410.5 911.5L1410.5 906.5" stroke="#9fff60"/>
<path d="M1424.5 907.5L1424.5 910L1424.5 910L1424.5 907.5" stroke="#9fff60"/>
<path d="M1431 901.5L1431 906L1432.5 908L1432.5 900.5L1434.5 898.5L1434.5 907L1436 908.5L1436 900.5L1438 902.5L1438 907" stroke="#9fff60"/>
<path d="M1298 895.5L1298 912L1299 912L1299 895.5" stroke="#ff4000"/>
<path d="M1302.5 907.5L1302.5 913.5L1302.5 913.5L1302.5 907.5" stroke="#ff4000"/>
<path d="M1292 919.5L1292 920L1294 919.5L1294 919.5L1296 920L1296 920L1298 920.5L1298 920L1300 919.5L1300 919.5L1302 919.5L1302 919.5L1304 919.5L1304 919.5L1306 919L1306 919L1307.5 918.5L1307.5 919L1309.5 920L1309.5 919.5L1311.5 920L1311.5 920L1313.5 919.5L1313.5 919.5L1315.5 919.5L1315.5 919.5L1317.5 920L1317.5 919L1319.5 918.5L1319.5 919.5" stroke="#ff4000"/>
<path d="M1292 915L1292 918.5L1293.5 919L1293.5 917L1295 916L1295 919L1296.5 918.5L1296.5 915L1298 915.5L1298 918.5L1299.5 920L1299.5 914L1301 914.5L1301 919L1302.5 918.5L1302.5 915L1304 915.5L1304 918.5L1305.5 918.5L1305.5 914L1307 912.5L1307 920L1308.5 918.5L1308.5 911L1310 910L1310 919L1311.5 919.5L1311.5 909L1313 910L1313 919.5L1314.5 920L1314.5 910.5L1316 911.5L1316 919.5L1317.5 919.5L1317.5 911L1319 912L1319 920L1320.5 919.5L1320.5 914.5L1322 914L1322 918.5L1323.5 915.5L1323.5 912.5L1325 912L1325 915.5L1326.5 915.5L1326.5 910L1328 908.5L1328 915.5L1329.5 917.5L1329.5 909.5L1331 910L1331 915.5L1332.5 916L1332.5 910L1334 912L1334 918.5L1335.5 917L1335.5 913.5L1336.5 912L1336.5 918.5L1338 919L1338 909.5L1339.5 907.5L1339.5 916L1341 916L1341 905L1342.5 902L1342.5 916.5L1344 916L1344 903.5L1345.5 905L1345.5 916L1347 919.5L1347 909L1348.5 916L1348.5 920L1350 919L1350 907.5L1351.5 901L1351.5 920L1353 919L1353 900L1354.5 900.5L1354.5 917" stroke="#ff0000"/>
<path d="M1358.5 910L1358.5 911.5L1360 913.5L1360 911L1361.5 912L1361.5 915L1363 915.5L1363 913L1364.5 914.5L1364.5 916L1366 916L1366 915L1367.5 914.5L1367.5 916L1369 916.5L1369 914.5L1370.5 915L1370.5 917.5L1372 918L1372 915.5L1373.5 916L1373.5 918L1375 917.5L1375 915L1376.5 914.5L1376.5 917L1378 917.5L1378 914L1379.5 913.5L1379.5 915.5L1381 913L1381 910.5L1382.5 908L1382.5 910L1384 908L1384 906.5L1385.5 908.5L1385.5 909.5L1387 911.5L1387 909L1388.5 909.5L1388.5 912.5L1390 913L1390 909L1391.5 909.5L1391.5 912L1393 912.5L1393 909.5L1394.5 910.5L1394.5 913L1396 912.5L1396 909.5L1397.5 908.5L1397.5 912L1399 910.5L1399 908L1400.5 909L1400.5 911L1402 910.5L1402 909.5L1403.5 908L1403.5 910.5L1405 909L1405 906L1406.5 904L1406.5 906.5L1408 909L1408 907L1409.5 910.5L1409.5 912L1411 914.5L1411 912.5L1412.5 913.5L1412.5 915L1414 913.5L1414 911L1415.5 908L1415.5 911.5L1417 909L1417 905.5L1418.5 906L1418.5 908L1420 910.5L1420 908L1421.5 915L1421.5 918.5L1423 915.5L1423 912.5L1424.5 910L1424.5 911.5L1426 912L1426 909L1427.5 909.5L1427.5 912L1429 912L1429 909L1430.5 909.5L1430.5 911.5L1432 911L1432 909L1433.5 909L1433.5 910.5L1435 910.5L1435 909.5L1436.5 910L1436.5 911L1438 914.5L1438 912" stroke="#ff2000"/>
</g>
<g id="sphi" fill="none" stroke-width="4" stroke-linejoin="round" stroke-linecap="round">
<path d="M1155.5 1182L1155.5 1190L1157.5 1190L1157.5 1183.5L1159.5 1182L1159.5 1189L1162 1188.5L1162 1182" stroke="#0080ff"/>
<path d="M1155.5 1184.5L1155.5 1186.5L1157.5 1187.5L1157.5 1184.5L1159.5 1185.5L1159.5 1187.5L1162 1187L1162 1182.5" stroke="#ff0000"/>
<path d="M1155.5 1186L1155.5 1188.5L1157.5 1188L1157.5 1185.5L1159.5 1185.5L1159.5 1188L1161 1187.5L1161 1185.5" stroke="#ff2000"/>
<path d="M1190.5 1185L1190.5 1188.5L1192.5 1188L1192.5 1185.5L1194.5 1185L1194.5 1188.5L1196.5 1188.5L1196.5 1184.5L1198.5 1183.5L1198.5 1189L1200 1188.5L1200 1183.5" stroke="#0080ff"/>
<path d="M1177.5 1182L1177.5 1187L1179.5 1186.5L1179.5 1182.5L1181.5 1182.5L1181.5 1186L1183.5 1186L1183.5 1183L1185.5 1182L1185.5 1186L1187.5 1186L1187.5 1182L1189.5 1181L1189.5 1186L1191.5 1186.5L1191.5 1181.5L1193.5 1180L1193.5 1186" stroke="#60ff9f"/>
<path d="M1168.5 1184L1168.5 1187L1170.5 1187L1170.5 1184L1172.5 1185L1172.5 1187.5L1174.5 1189L1174.5 1185L1176.5 1185.5L1176.5 1188L1178.5 1187.5L1178.5 1186.5L1180.5 1185.5L1180.5 1188L1182.5 1187.5L1182.5 1184.5L1184.5 1185L1184.5 1187L1186.5 1187L1186.5 1185L1188.5 1186L1188.5 1187.5L1190.5 1187L1190.5 1185L1192 1186.5L1192 1187.5L1194 1187.5L1194 1186L1196 1186L1196 1188L1198 1188L1198 1184L1200 1184.5L1200 1188" stroke="#ff2000"/>
<path d="M1168.5 1182.5L1168.5 1185L1170 1185.5L1170 1183L1172 1181.5L1172 1186.5L1174 1185.5L1174 1182.5L1176 1183.5L1176 1185L1178 1185.5L1178 1183L1180 1180.5L1180 1186.5" stroke="#ff0000"/>
<path d="M1184 1186L1184 1187L1186 1186L1186 1184L1188 1184L1188 1186.5L1190 1186L1190 1186L1192 1185L1192 1187L1194 1186L1194 1185L1196 1185L1196 1186L1198 1186L1198 1185.5L1200 1183.5L1200 1186.5" stroke="#ff0000"/>
<path d="M1208.5 1184L1208.5 1189L1210.5 1188L1210.5 1183L1212.5 1184L1212.5 1188L1214.5 1188.5L1214.5 1182.5L1216.5 1182.5L1216.5 1188.5L1218.5 1187.5L1218.5 1183.5L1220.5 1182.5L1220.5 1188.5L1222.5 1188.5L1222.5 1182.5L1224.5 1183L1224.5 1187.5L1226.5 1188L1226.5 1185L1228.5 1185.5L1228.5 1189L1230.5 1189L1230.5 1183L1232.5 1182.5L1232.5 1188.5L1234.5 1188.5L1234.5 1182.5L1236.5 1183L1236.5 1188.5L1238.5 1189L1238.5 1185" stroke="#60ff9f"/>
<path d="M1233.5 1181.5L1233.5 1185L1235.5 1185.5L1235.5 1181L1237.5 1181L1237.5 1186" stroke="#0080ff"/>
<path d="M1208.5 1185L1208.5 1188L1210.5 1188.5L1210.5 1185.5L1212.5 1185.5L1212.5 1188.5L1214.5 1188L1214.5 1182.5L1216.5 1182L1216.5 1186.5L1218.5 1187L1218.5 1185L1220.5 1183L1220.5 1188L1222.5 1187.5L1222.5 1183L1224.5 1184.5L1224.5 1187L1226.5 1188L1226.5 1184.5L1228.5 1184.5L1228.5 1188L1230.5 1187.5L1230.5 1185L1232.5 1185L1232.5 1187L1234.5 1186.5L1234.5 1185.5L1236.5 1185.5L1236.5 1187L1238.5 1187L1238.5 1185.5" stroke="#ff0000"/>
<path d="M1248.5 1180L1248.5 1183.5L1250 1184L1250 1180.5" stroke="#0080ff"/>
<path d="M1248.5 1185.5L1248.5 1188.5L1251 1188.5L1251 1186L1253 1185.5L1253 1189L1255 1188L1255 1184.5L1257 1185L1257 1188L1259 1187.5L1259 1185L1261.5 1185.5L1261.5 1187.5L1263.5 1188L1263.5 1185L1265.5 1184.5L1265.5 1188L1267.5 1187.5L1267.5 1186" stroke="#60ff9f"/>
<path d="M1248.5 1185L1248.5 1187L1250.5 1188L1250.5 1186L1252 1184.5L1252 1188L1254 1189L1254 1185L1256 1184.5L1256 1188L1258 1188L1258 1185L1260 1186.5L1260 1188.5L1262 1187.5L1262 1186L1264 1185.5L1264 1187.5L1265.5 1188L1265.5 1183L1267.5 1183L1267.5 1188" stroke="#ff0000"/>
<path d="M1266 1183.5L1266 1186.5L1267.5 1186L1267.5 1184.5" stroke="#bfff40"/>
<path d="M1277.5 1181.5L1277.5 1187.5L1279.5 1187.5L1279.5 1182.5L1281.5 1183L1281.5 1188L1283.5 1188L1283.5 1181.5L1285 1181L1285 1187.5L1287 1187.5L1287 1182L1289 1182.5L1289 1187.5L1291 1187.5L1291 1182.5L1293 1183L1293 1188L1295 1188L1295 1182L1297 1183.5L1297 1189L1299 1188.5L1299 1182L1301 1181.5L1301 1188L1303 1188L1303 1182.5" stroke="#0080ff"/>
<path d="M1282 1182.5L1282 1185.5L1284 1185L1284 1182.5L1286 1181.5L1286 1184.5L1288 1184.5L1288 1182.5L1290 1182L1290 1184.5L1292 1184.5L1292 1179.5" stroke="#bfff40"/>
<path d="M1277.5 1185.5L1277.5 1187.5L1279.5 1187.5L1279.5 1183L1281.5 1182.5L1281.5 1186.5L1283.5 1187.5L1283.5 1183L1285 1182L1285 1188.5L1287 1188L1287 1184L1289 1186L1289 1187L1291 1187.5L1291 1186L1293 1183L1293 1188L1295 1187.5L1295 1184.5L1297 1185L1297 1187.5L1299 1189L1299 1186.5L1301 1186L1301 1188L1303 1187.5L1303 1186.5" stroke="#ff0000"/>
<path d="M1312 1185L1312 1188L1314 1187L1314 1185L1316 1185L1316 1188L1318 1188L1318 1183.5L1319.5 1184.5L1319.5 1188.5" stroke="#0080ff"/>
<path d="M1313.5 1178.5L1313.5 1184.5L1315.5 1185L1315.5 1179.5L1317 1177.5L1317 1184.5L1319 1184.5L1319 1179" stroke="#bfff40"/>
<path d="M1312.5 1183L1312.5 1188.5L1314.5 1188L1314.5 1184.5L1316 1184L1316 1187.5L1318 1187.5L1318 1181L1319.5 1181L1319.5 1187" stroke="#ff0000"/>
<path d="M1342 1183L1342 1188L1343 1187.5L1343 1183" stroke="#0080ff"/>
<path d="M1328 1182.5L1328 1188.5L1330 1186.5L1330 1182.5L1332 1184L1332 1187L1334.5 1187L1334.5 1182L1336.5 1182.5L1336.5 1186.5L1338.5 1188.5L1338.5 1183.5L1340.5 1183.5L1340.5 1189.5L1343 1187.5L1343 1182.5" stroke="#ff0000"/>
<path d="M1358.5 1183.5L1358.5 1188.5L1358.5 1188.5L1358.5 1184" stroke="#bfff40"/>
<path d="M1365 1187L1365 1190L1367 1190.5L1367 1187L1369 1186.5L1369 1190.5L1371 1189.5L1371 1187L1373 1187L1373 1189L1375.5 1189L1375.5 1188L1377.5 1187L1377.5 1190L1379.5 1189.5L1379.5 1188L1381.5 1187L1381.5 1189.5L1383.5 1189.5L1383.5 1186.5L1385.5 1187L1385.5 1188.5L1387.5 1189L1387.5 1186.5L1389.5 1186.5L1389.5 1189.5L1391.5 1190.5L1391.5 1187L1393.5 1186.5L1393.5 1190.5L1395.5 1190L1395.5 1187L1397.5 1187L1397.5 1190.5L1399.5 1189.5L1399.5 1186L1401.5 1187L1401.5 1190L1403.5 1189.5L1403.5 1188L1405.5 1188L1405.5 1190L1407.5 1189.5L1407.5 1188L1409.5 1188L1409.5 1190L1412 1190L1412 1187L1414 1188L1414 1189L1416 1189L1416 1188L1418 1187.5L1418 1189.5L1420 1189L1420 1186.5L1422 1186.5L1422 1189L1424 1188.5L1424 1187L1426 1187L1426 1189.5L1428 1189.5L1428 1187.5" stroke="#009fff"/>
<path d="M1365 1182L1365 1184.5L1367 1184.5L1367 1180L1369 1181L1369 1184L1371 1184.5L1371 1182.5L1373 1183.5L1373 1185L1375 1186L1375 1183.5L1377 1182.5L1377 1185.5L1379 1185L1379 1182L1381 1182.5L1381 1184.5L1383 1184.5L1383 1181.5L1385 1181.5L1385 1185.5L1387 1184.5L1387 1181.5L1389 1183L1389 1185L1391.5 1184.5L1391.5 1180.5L1393.5 1180.5L1393.5 1184.5L1395.5 1185L1395.5 1180.5L1397.5 1180L1397.5 1185.5L1399.5 1185L1399.5 1180.5" stroke="#00ffff"/>
<path d="M1378 1183L1378 1186.5L1380 1186L1380 1182.5L1382 1181.5L1382 1185.5L1384 1185.5L1384 1181.5L1386 1181.5L1386 1185.5L1388 1185L1388 1182.5L1390 1181.5L1390 1185L1392 1186L1392 1182L1394 1181.5L1394 1186L1396 1186.5L1396 1181.5L1398 1183L1398 1186.5L1400 1186L1400 1180.5L1402 1180.5L1402 1185L1404 1185.5L1404 1181L1406 1182L1406 1186L1408 1186L1408 1183L1410 1183L1410 1186L1412 1186L1412 1183.5L1414 1181.5L1414 1185.5L1416 1186L1416 1180L1418 1181L1418 1185.5L1420 1186.5L1420 1183L1422 1181L1422 1186.5L1424 1186L1424 1181L1426 1183L1426 1186.5L1428 1185.5L1428 1181.5" stroke="#60ff9f"/>
<path d="M1365 1184.5L1365 1185.5L1367 1186L1367 1183L1369 1184L1369 1186L1371 1185.5L1371 1184L1373 1182L1373 1185.5L1375.5 1186L1375.5 1181.5L1377.5 1183L1377.5 1185.5L1379.5 1185.5L1379.5 1184L1381.5 1183.5L1381.5 1186L1383.5 1185L1383.5 1183.5L1385.5 1182L1385.5 1185.5L1387.5 1186L1387.5 1182L1389.5 1184L1389.5 1185L1391.5 1185L1391.5 1183L1393.5 1184L1393.5 1185.5L1395.5 1186L1395.5 1182L1397.5 1182.5L1397.5 1185.5L1399.5 1185.5L1399.5 1183L1401.5 1184.5L1401.5 1185L1403.5 1185.5L1403.5 1185L1405.5 1182.5L1405.5 1186L1407.5 1186.5L1407.5 1182.5L1409.5 1183L1409.5 1186L1412 1185.5L1412 1182.5L1414 1182.5L1414 1185.5L1416 1186L1416 1182.5L1418 1183L1418 1186L1420 1186.5L1420 1184.5L1422 1182.5L1422 1186.5L1424 1185.5L1424 1182L1426 1183L1426 1186L1428 1186L1428 1184" stroke="#9fff60"/>
<path d="M1365 1188L1365 1188.5L1367 1188L1367 1187.5L1369 1187L1369 1188.5L1371 1188L1371 1187L1373 1188L1373 1188L1375.5 1188.5L1375.5 1186.5L1377.5 1187L1377.5 1188.5L1379.5 1188.5L1379.5 1188L1381.5 1187.5L1381.5 1188L1383.5 1188L1383.5 1188L1385.5 1188L1385.5 1188L1387.5 1187.5L1387.5 1187.5L1389.5 1188L1389.5 1188L1391.5 1188L1391.5 1187L1393.5 1188L1393.5 1188.5L1395.5 1188.5L1395.5 1187.5L1397.5 1187.5L1397.5 1187.5L1399.5 1187.5L1399.5 1187L1401.5 1187.5L1401.5 1187.5L1403.5 1188L1403.5 1187L1405.5 1187L1405.5 1188L1407.5 1188L1407.5 1188L1409.5 1187L1409.5 1188L1412 1188.5L1412 1187L1414 1187L1414 1188L1416 1188L1416 1187.5L1418 1187L1418 1187.5L1420 1188L1420 1187L1422 1187.5L1422 1187.5L1424 1188L1424 1188L1426 1187L1426 1188.5L1428 1188.5L1428 1188" stroke="#ff2000"/>
<path d="M1365 1185.5L1365 1187.5L1367 1187L1367 1185.5L1369 1186L1369 1187.5L1371 1187.5L1371 1186L1373 1186L1373 1187L1375.5 1187L1375.5 1186.5L1377.5 1185.5L1377.5 1187.5L1379.5 1187.5L1379.5 1185.5L1381.5 1185L1381.5 1187.5L1383.5 1187.5L1383.5 1184.5L1385.5 1185L1385.5 1187L1387.5 1187L1387.5 1185.5L1389.5 1185.5L1389.5 1187L1391.5 1187.5L1391.5 1185.5L1393.5 1185L1393.5 1187.5L1395.5 1187.5L1395.5 1185.5L1397.5 1185.5L1397.5 1187L1399.5 1187.5L1399.5 1185.5L1401.5 1185.5L1401.5 1187L1403.5 1187.5L1403.5 1185.5L1405.5 1185.5L1405.5 1187.5L1407.5 1186.5L1407.5 1185L1409.5 1184.5L1409.5 1187.5L1412 1187.5L1412 1184L1414 1183.5L1414 1187.5L1416 1187.5L1416 1183.5L1418 1183L1418 1187.5L1420 1187.5L1420 1183L1422 1183.5L1422 1187L1424 1187.5L1424 1184L1426 1183L1426 1187L1428 1187L1428 1183.5" stroke="#ff0000"/>
<path d="M1422 1186L1422 1190L1424 1190L1424 1187L1426 1188L1426 1189.5L1428 1189.5L1428 1187L1430 1187L1430 1189.5L1432 1189.5L1432 1187L1434 1187L1434 1189.5L1436 1190L1436 1188L1438 1187.5L1438 1189.5L1440 1190L1440 1187.5L1442 1187L1442 1190L1444 1189.5L1444 1187.5L1446 1187.5L1446 1189.5L1448 1189L1448 1187" stroke="#00ffff"/>
<path d="M1422 1182L1422 1185L1424 1184.5L1424 1180.5L1426 1179L1426 1185L1428 1184.5L1428 1177.5L1430.5 1177.5L1430.5 1184.5L1432.5 1185L1432.5 1178.5L1434.5 1179L1434.5 1185L1436.5 1185.5L1436.5 1177L1438.5 1177L1438.5 1185" stroke="#9fff60"/>
<path d="M1442.5 1180.5L1442.5 1185L1444.5 1184L1444.5 1180.5L1446.5 1182.5L1446.5 1184L1449 1184.5L1449 1182.5" stroke="#40ffbf"/>
<path d="M1422 1184.5L1422 1186.5L1424 1187L1424 1184L1426 1183.5L1426 1187.5L1428 1187.5L1428 1182L1430 1181L1430 1186.5L1432 1187L1432 1182L1434 1182.5L1434 1186.5L1436 1186L1436 1182L1438 1183.5L1438 1186.5L1440 1186.5L1440 1183.5L1442 1183.5L1442 1186.5L1444 1186L1444 1183.5L1446 1184.5L1446 1187.5L1448 1187.5L1448 1185.5" stroke="#ff0000"/>
<path d="M1458.5 1187L1458.5 1190L1460.5 1188.5L1460.5 1188L1462.5 1186.5L1462.5 1189L1464.5 1189L1464.5 1186L1466.5 1186.5L1466.5 1189L1468.5 1188.5L1468.5 1187L1470.5 1187.5L1470.5 1189L1472.5 1189L1472.5 1187L1474.5 1187.5L1474.5 1189.5L1476.5 1189.5L1476.5 1188L1478.5 1187L1478.5 1189L1480.5 1188.5L1480.5 1187L1482.5 1187L1482.5 1189L1484.5 1190L1484.5 1187L1486.5 1188L1486.5 1189.5L1488.5 1189L1488.5 1188L1490.5 1188L1490.5 1188" stroke="#00ffff"/>
<path d="M1458.5 1183.5L1458.5 1187L1460.5 1186L1460.5 1183L1462.5 1184L1462.5 1186.5L1464.5 1187.5L1464.5 1185L1466.5 1183.5L1466.5 1186.5L1468.5 1186L1468.5 1183L1470.5 1183L1470.5 1187L1472.5 1186L1472.5 1185L1474.5 1185.5L1474.5 1186.5L1476.5 1186.5L1476.5 1183L1478.5 1184L1478.5 1187L1480.5 1186L1480.5 1183.5L1482.5 1183L1482.5 1186L1484.5 1186.5L1484.5 1182.5L1486.5 1182L1486.5 1187L1488.5 1186.5L1488.5 1182.5L1490.5 1182.5L1490.5 1186.5" stroke="#40ffbf"/>
<path d="M1469.5 1185L1469.5 1188L1471 1188.5L1471 1184.5L1473 1184.5L1473 1188.5L1475 1187.5L1475 1185.5L1477 1185.5L1477 1186.5L1479 1186.5L1479 1185.5L1481 1184.5L1481 1187L1483 1187L1483 1185L1485 1185.5L1485 1188L1486.5 1188L1486.5 1187L1488.5 1187L1488.5 1188L1490.5 1188L1490.5 1186" stroke="#ff6000"/>
<path d="M1459 1185L1459 1186L1461 1185.5L1461 1184.5L1463 1184L1463 1186L1465 1186L1465 1183L1467 1183L1467 1186L1469 1185.5L1469 1182.5L1471 1181L1471 1185.5L1473 1185L1473 1180L1475.5 1178.5L1475.5 1186L1477.5 1186L1477.5 1176.5L1479.5 1176.5L1479.5 1185.5L1481.5 1185L1481.5 1178.5L1483.5 1180L1483.5 1186L1485.5 1186.5L1485.5 1181.5L1487.5 1183L1487.5 1186" stroke="#ff2000"/>
<path d="M1497.5 1183.5L1497.5 1185.5L1499.5 1185.5L1499.5 1182L1502 1182.5L1502 1185.5L1504 1185L1504 1183.5" stroke="#40ffbf"/>
<path d="M1497.5 1186.5L1497.5 1187L1499 1187L1499 1187L1501 1187L1501 1187L1502.5 1188.5L1502.5 1186L1504.5 1186L1504.5 1188.5" stroke="#ff6000"/>
<path d="M1514 1180L1514 1181.5L1516.5 1181L1516.5 1179.5" stroke="#009fff"/>
<path d="M1514.5 1184L1514.5 1185.5L1516 1185.5L1516 1184.5" stroke="#40ffbf"/>
<path d="M1515 1187L1515 1188L1516 1187.5L1516 1186" stroke="#ff6000"/>
<path d="M1523.5 1182L1523.5 1186L1525.5 1186L1525.5 1180.5L1527.5 1183.5L1527.5 1186L1529.5 1186L1529.5 1182L1531.5 1182.5L1531.5 1186.5L1533.5 1186.5L1533.5 1183L1535.5 1183L1535.5 1186L1537 1186L1537 1180L1539 1181.5L1539 1186L1541 1186.5L1541 1184L1543 1184L1543 1186L1545 1186L1545 1183" stroke="#40ffbf"/>
<path d="M1540.5 1177L1540.5 1181L1542.5 1180.5L1542.5 1177.5L1545 1176L1545 1180.5" stroke="#0020ff"/>
<path d="M1523.5 1187L1523.5 1189.5L1525.5 1188L1525.5 1186L1527.5 1185.5L1527.5 1188.5L1529.5 1189L1529.5 1186.5L1531.5 1186.5L1531.5 1188.5L1533.5 1189L1533.5 1187L1535.5 1186.5L1535.5 1189.5L1537 1189.5L1537 1186L1539 1186L1539 1188.5L1541 1188.5L1541 1185.5L1543 1186.5L1543 1188L1545 1189L1545 1187" stroke="#ff6000"/>
<path d="M1551.5 1178.5L1551.5 1184L1553.5 1184.5L1553.5 1177.5L1555.5 1179L1555.5 1185L1557.5 1184.5L1557.5 1177L1559.5 1177.5L1559.5 1185L1561.5 1184.5L1561.5 1178" stroke="#40ffbf"/>
<path d="M1551.5 1184.5L1551.5 1185L1553.5 1185L1553.5 1184L1555.5 1183L1555.5 1185L1557.5 1185.5L1557.5 1183L1559.5 1182.5L1559.5 1185.5L1561.5 1185L1561.5 1183L1563.5 1182L1563.5 1185.5L1565.5 1185.5L1565.5 1182L1567.5 1183.5L1567.5 1185L1569.5 1185.5L1569.5 1182L1571.5 1182L1571.5 1185.5L1573.5 1185L1573.5 1183.5L1575.5 1182.5L1575.5 1185L1577.5 1185.5L1577.5 1184L1580 1184.5L1580 1185L1582 1185L1582 1184.5L1584 1183.5L1584 1185.5L1586 1185L1586 1184L1588 1182L1588 1185.5L1590 1185.5L1590 1181.5L1592 1181.5L1592 1185L1594 1185L1594 1181.5L1596 1183.5L1596 1185.5L1598 1185L1598 1182L1600 1181.5L1600 1185L1602 1185.5L1602 1182.5L1604 1182.5L1604 1185.5" stroke="#0000bf"/>
<path d="M1589 1181.5L1589 1184L1591 1184L1591 1181.5L1592.5 1182L1592.5 1183.5L1594.5 1184L1594.5 1182.5L1596 1182L1596 1184" stroke="#00ffff"/>
<path d="M1551.5 1187L1551.5 1188L1553.5 1188L1553.5 1188L1555.5 1187.5L1555.5 1189L1557.5 1188.5L1557.5 1187.5L1559.5 1186.5L1559.5 1189.5L1561.5 1189L1561.5 1186.5L1564 1188L1564 1190L1566 1190L1566 1187.5L1568 1188L1568 1188L1570 1188.5L1570 1188L1572 1188L1572 1189L1574 1190L1574 1187L1576 1187L1576 1189L1578 1189.5L1578 1186.5L1580 1186.5L1580 1189L1582 1188.5L1582 1187.5L1584 1188L1584 1188L1586 1188.5L1586 1188L1588 1187.5L1588 1189L1590 1189.5L1590 1186.5L1592 1186.5L1592 1190L1594 1189L1594 1187L1596 1187.5L1596 1190L1598 1189L1598 1187.5L1600 1187L1600 1189.5L1602 1189L1602 1187.5L1604 1187.5L1604 1189.5" stroke="#ff6000"/>
<path d="M1559 1184.5L1559 1187L1561 1187L1561 1185L1563.5 1185L1563.5 1188L1565.5 1188L1565.5 1183.5L1567.5 1183.5L1567.5 1187.5L1569.5 1187L1569.5 1185L1571.5 1184L1571.5 1187L1573.5 1187L1573.5 1183L1575.5 1183.5L1575.5 1188L1577.5 1188L1577.5 1185L1579.5 1184L1579.5 1188L1581.5 1188L1581.5 1183.5L1583.5 1184L1583.5 1187L1585.5 1187L1585.5 1184L1587.5 1185L1587.5 1187.5L1589.5 1187L1589.5 1185.5L1591.5 1185.5L1591.5 1187" stroke="#df0000"/>
<path d="M1559 1180L1559 1188.5L1561.5 1188L1561.5 1181.5L1563.5 1180.5L1563.5 1188L1565.5 1187L1565.5 1179.5L1567.5 1178.5L1567.5 1186L1569.5 1187L1569.5 1179L1571.5 1180.5L1571.5 1187L1573.5 1186L1573.5 1181L1575.5 1182L1575.5 1186L1577.5 1186L1577.5 1182L1579.5 1182L1579.5 1187.5L1581.5 1188.5L1581.5 1183.5L1583.5 1183.5L1583.5 1187L1586 1187.5L1586 1182.5L1588 1183.5L1588 1188.5L1590 1187.5L1590 1184.5L1592 1184.5L1592 1186.5L1594 1187.5L1594 1184L1596 1183.5L1596 1186.5L1598 1186L1598 1184.5L1600 1185L1600 1186.5L1602 1187L1602 1184.5L1604 1184L1604 1186" stroke="#9f0000"/>
<path d="M1613.5 1186L1613.5 1186.5L1613.5 1187L1613.5 1185.5" stroke="#0000bf"/>
<path d="M1614.5 1181L1614.5 1184L1616.5 1184L1616.5 1181L1618 1180.5L1618 1184L1620 1184L1620 1182" stroke="#00ffff"/>
<path d="M1626.5 1180L1626.5 1183L1628.5 1182.5L1628.5 1179.5" stroke="#00ffff"/>
<path d="M1613 1188L1613 1188L1615 1188L1615 1187L1617 1187L1617 1188.5L1619 1189L1619 1187.5" stroke="#ff6000"/>
<path d="M1614 1184.5L1614 1187L1616.5 1186.5L1616.5 1183.5L1618.5 1182.5L1618.5 1188" stroke="#9f0000"/>
<path d="M1641 1184L1641 1185L1643 1184.5L1643 1183.5L1645 1182.5L1645 1184.5L1647 1184.5L1647 1182.5L1649 1182.5L1649 1184.5L1651 1184.5L1651 1183L1652.5 1182.5L1652.5 1184.5L1654.5 1184L1654.5 1182.5" stroke="#0000bf"/>
<path d="M1624.5 1185.5L1624.5 1188.5L1626.5 1188.5L1626.5 1186L1628.5 1186L1628.5 1189L1630.5 1188L1630.5 1186.5L1632.5 1185.5L1632.5 1188L1634.5 1188L1634.5 1186L1636.5 1186.5L1636.5 1189L1638.5 1189L1638.5 1187L1640.5 1187L1640.5 1188.5L1643 1188.5L1643 1186L1645 1186.5L1645 1188L1647 1189L1647 1185.5L1649 1186L1649 1188.5L1651 1188L1651 1186.5L1653 1186L1653 1189L1655 1189.5L1655 1186L1657 1186L1657 1189.5L1659 1189L1659 1187L1661 1186.5L1661 1189.5L1663 1189L1663 1187L1665 1187L1665 1189L1667 1189L1667 1186.5L1669 1186L1669 1188.5L1671 1187.5L1671 1186L1673 1187L1673 1188L1675 1188.5L1675 1186.5L1677 1186L1677 1188L1679 1187.5L1679 1185.5L1681 1185.5L1681 1188.5L1683 1189L1683 1186L1685 1185.5L1685 1188.5L1687 1189L1687 1187L1689 1187L1689 1189L1691 1188.5L1691 1185.5L1693 1186.5L1693 1189L1695 1188.5L1695 1186L1697 1187L1697 1188L1699 1188.5L1699 1186L1701 1186.5L1701 1188.5L1703 1188L1703 1187L1705 1187.5L1705 1189L1707 1188L1707 1186L1709 1186L1709 1189" stroke="#ff6000"/>
<path d="M1624 1183.5L1624 1189L1626 1187.5L1626 1183L1628 1182.5L1628 1188L1630.5 1189L1630.5 1183L1632.5 1183.5L1632.5 1189L1634.5 1188L1634.5 1184L1636.5 1184L1636.5 1187.5L1638.5 1187.5L1638.5 1184.5L1640.5 1183L1640.5 1189L1642.5 1188L1642.5 1184L1644.5 1183.5L1644.5 1187.5L1646.5 1188L1646.5 1183.5L1648.5 1184L1648.5 1189L1650.5 1188.5L1650.5 1184L1652.5 1184.5L1652.5 1187.5L1654.5 1188L1654.5 1183.5L1656.5 1184.5L1656.5 1187.5L1658.5 1188.5L1658.5 1184L1660.5 1184.5L1660.5 1188.5L1662.5 1188.5L1662.5 1184L1664.5 1183L1664.5 1189L1666.5 1189L1666.5 1183L1668.5 1183L1668.5 1187.5L1670.5 1187L1670.5 1184L1672.5 1184.5L1672.5 1187L1674.5 1187.5L1674.5 1183L1676.5 1183.5L1676.5 1188.5L1678.5 1187.5L1678.5 1183L1680.5 1182.5L1680.5 1188.5L1683 1189L1683 1182.5L1685 1183L1685 1188L1687 1188L1687 1183L1689 1182L1689 1188L1691 1187L1691 1181.5L1693 1181L1693 1187.5L1695 1187.5L1695 1181.5L1697 1182.5L1697 1187L1699 1189L1699 1184L1701 1183L1701 1189L1703 1187.5L1703 1183L1705 1183L1705 1188.5L1707 1188L1707 1184.5L1709 1185.5L1709 1188.5" stroke="#9f0000"/>
</g>
<g shape-rendering="crispEdges">
<path d="M253.5 134V398M316.5 134V398M380.5 134V398M443.5 134V398M507.5 134V398M570.5 134V398M633.5 134V398M697.5 134V398M760.5 134V398M824.5 134V398M887.5 134V398M951.5 134V398M1014.5 134V398M1077.5 134V398M1141.5 134V398M1204.5 134V398M1268.5 134V398M1331.5 134V398M1394.5 134V398M1458.5 134V398M1521.5 134V398M1585.5 134V398M1648.5 134V398" stroke="#000" stroke-width="1" stroke-dasharray="1 3" fill="none"/>
<path d="M253.5 400V664M316.5 400V664M380.5 400V664M443.5 400V664M507.5 400V664M570.5 400V664M633.5 400V664M697.5 400V664M760.5 400V664M824.5 400V664M887.5 400V664M951.5 400V664M1014.5 400V664M1077.5 400V664M1141.5 400V664M1204.5 400V664M1268.5 400V664M1331.5 400V664M1394.5 400V664M1458.5 400V664M1521.5 400V664M1585.5 400V664M1648.5 400V664" stroke="#000" stroke-width="1" stroke-dasharray="1 3" fill="none"/>
<path d="M253.5 666V930M316.5 666V930M380.5 666V930M443.5 666V930M507.5 666V930M570.5 666V930M633.5 666V930M697.5 666V930M760.5 666V930M824.5 666V930M887.5 666V930M951.5 666V930M1014.5 666V930M1077.5 666V930M1141.5 666V930M1204.5 666V930M1268.5 666V930M1331.5 666V930M1394.5 666V930M1458.5 666V930M1521.5 666V930M1585.5 666V930M1648.5 666V930" stroke="#000" stroke-width="1" stroke-dasharray="1 3" fill="none"/>
<path d="M253.5 932V1196M316.5 932V1196M380.5 932V1196M443.5 932V1196M507.5 932V1196M570.5 932V1196M633.5 932V1196M697.5 932V1196M760.5 932V1196M824.5 932V1196M887.5 932V1196M951.5 932V1196M1014.5 932V1196M1077.5 932V1196M1141.5 932V1196M1204.5 932V1196M1268.5 932V1196M1331.5 932V1196M1394.5 932V1196M1458.5 932V1196M1521.5 932V1196M1585.5 932V1196M1648.5 932V1196" stroke="#000" stroke-width="1" stroke-dasharray="1 3" fill="none"/>
</g>
<text x="179.7" y="410.7" text-anchor="end">0</text>
<text x="179.7" y="277.7" text-anchor="end">10</text>
<text x="179.7" y="144.7" text-anchor="end">20</text>
<text x="179.7" y="676.7" text-anchor="end">-2</text>
<text x="179.7" y="543.95" text-anchor="end">0</text>
<text x="179.7" y="411.2" text-anchor="end">2</text>
<text x="179.7" y="942.7" text-anchor="end">0</text>
<text x="179.7" y="898.45" text-anchor="end">0.1</text>
<text x="179.7" y="854.2" text-anchor="end">0.2</text>
<text x="179.7" y="765.7" text-anchor="end">0.4</text>
<text x="179.7" y="1208.7" text-anchor="end">0</text>
<text x="179.7" y="1182.15" text-anchor="end">0.1</text>
<text x="179.7" y="1155.6" text-anchor="end">0.2</text>
<text x="179.7" y="1102.5" text-anchor="end">0.4</text>
<text x="179.7" y="1049.4" text-anchor="end">0.6</text>
<text x="179.7" y="996.3" text-anchor="end">0.8</text>
<text x="179.7" y="943.2" text-anchor="end">1</text>
<g text-anchor="middle">
<text x="190.5" y="1236.6">0</text>
<text x="253.92" y="1236.6">1</text>
<text x="317.33" y="1236.6">2</text>
<text x="380.75" y="1236.6">3</text>
<text x="444.17" y="1236.6">4</text>
<text x="507.58" y="1236.6">5</text>
<text x="571" y="1236.6">6</text>
<text x="634.42" y="1236.6">7</text>
<text x="697.83" y="1236.6">8</text>
<text x="761.25" y="1236.6">9</text>
<text x="824.67" y="1236.6">10</text>
<text x="888.08" y="1236.6">11</text>
<text x="951.5" y="1236.6">12</text>
<text x="1014.92" y="1236.6">13</text>
<text x="1078.33" y="1236.6">14</text>
<text x="1141.75" y="1236.6">15</text>
<text x="1205.17" y="1236.6">16</text>
<text x="1268.58" y="1236.6">17</text>
<text x="1332" y="1236.6">18</text>
<text x="1395.42" y="1236.6">19</text>
<text x="1458.83" y="1236.6">20</text>
<text x="1522.25" y="1236.6">21</text>
<text x="1585.67" y="1236.6">22</text>
<text x="1649.08" y="1236.6">23</text>
<text x="1712.5" y="1236.6">24</text>
</g>
<text x="951" y="1276" text-anchor="middle" font-weight="bold" font-size="28.9">UT</text>
<text transform="translate(133 267) rotate(-90)" text-anchor="middle" font-size="32.27">VTEC</text>
<text transform="translate(141.4 532.6) rotate(-90)" text-anchor="middle" font-weight="bold" font-size="28.9">ROT [TECU/min]</text>
<text transform="translate(113 799) rotate(-90)" text-anchor="middle" font-weight="bold">S<tspan font-size="23.5" dy="14">4</tspan></text>
<text transform="translate(114.6 1116.6) rotate(-90)" font-family="'Liberation Serif', 'DejaVu Serif', serif" font-style="italic" font-size="32">σ</text>
<text transform="translate(128.8 1098.3) rotate(-90)" font-family="'Liberation Serif', 'DejaVu Serif', serif" font-style="italic" font-size="25.5">ϕ</text>
<text transform="translate(114 1076) rotate(-90)" font-weight="bold" font-size="28.9">[rad]</text>
<g font-weight="bold" font-size="45.9" fill="#000">
<text x="699" y="114.8">2012-03-17</text>
<text x="985" y="114.8">VTEC</text>
<text x="1135.5" y="114.8">uio</text>
</g>
<g font-weight="bold" font-size="25.1" fill="#0000ff">
<text x="984.5" y="130.5">Made by Yaqi Jin on 18-May-2018</text>
<text x="1711" y="130.3" text-anchor="end">NOT FOR PUBLICATION</text>
</g>
<g shape-rendering="crispEdges">
<rect x="1731.5" y="1038.56" width="23" height="25.54" fill="#00009f"/>
<rect x="1731.5" y="1013.62" width="23" height="25.54" fill="#0000bf"/>
<rect x="1731.5" y="988.69" width="23" height="25.54" fill="#0000df"/>
<rect x="1731.5" y="963.75" width="23" height="25.54" fill="#0000ff"/>
<rect x="1731.5" y="938.81" width="23" height="25.54" fill="#0020ff"/>
<rect x="1731.5" y="913.88" width="23" height="25.54" fill="#0040ff"/>
<rect x="1731.5" y="888.94" width="23" height="25.54" fill="#0060ff"/>
<rect x="1731.5" y="864" width="23" height="25.54" fill="#0080ff"/>
<rect x="1731.5" y="839.06" width="23" height="25.54" fill="#009fff"/>
<rect x="1731.5" y="814.12" width="23" height="25.54" fill="#00bfff"/>
<rect x="1731.5" y="789.19" width="23" height="25.54" fill="#00dfff"/>
<rect x="1731.5" y="764.25" width="23" height="25.54" fill="#00ffff"/>
<rect x="1731.5" y="739.31" width="23" height="25.54" fill="#20ffdf"/>
<rect x="1731.5" y="714.38" width="23" height="25.54" fill="#40ffbf"/>
<rect x="1731.5" y="689.44" width="23" height="25.54" fill="#60ff9f"/>
<rect x="1731.5" y="664.5" width="23" height="25.54" fill="#80ff80"/>
<rect x="1731.5" y="639.56" width="23" height="25.54" fill="#9fff60"/>
<rect x="1731.5" y="614.62" width="23" height="25.54" fill="#bfff40"/>
<rect x="1731.5" y="589.69" width="23" height="25.54" fill="#dfff20"/>
<rect x="1731.5" y="564.75" width="23" height="25.54" fill="#ffff00"/>
<rect x="1731.5" y="539.81" width="23" height="25.54" fill="#ffdf00"/>
<rect x="1731.5" y="514.88" width="23" height="25.54" fill="#ffbf00"/>
<rect x="1731.5" y="489.94" width="23" height="25.54" fill="#ff9f00"/>
<rect x="1731.5" y="465" width="23" height="25.54" fill="#ff8000"/>
<rect x="1731.5" y="440.06" width="23" height="25.54" fill="#ff6000"/>
<rect x="1731.5" y="415.12" width="23" height="25.54" fill="#ff4000"/>
<rect x="1731.5" y="390.19" width="23" height="25.54" fill="#ff2000"/>
<rect x="1731.5" y="365.25" width="23" height="25.54" fill="#ff0000"/>
<rect x="1731.5" y="340.31" width="23" height="25.54" fill="#df0000"/>
<rect x="1731.5" y="315.38" width="23" height="25.54" fill="#bf0000"/>
<rect x="1731.5" y="290.44" width="23" height="25.54" fill="#9f0000"/>
<rect x="1731.5" y="265.5" width="23" height="25.54" fill="#800000"/>
<rect x="1731.5" y="265.5" width="23" height="798" fill="none" stroke="#262626"/>
<path d="M1754.5 1037.5h-8M1754.5 986.5h-8M1754.5 934.5h-8M1754.5 883.5h-8M1754.5 831.5h-8M1754.5 780.5h-8M1754.5 728.5h-8M1754.5 677.5h-8M1754.5 625.5h-8M1754.5 574.5h-8M1754.5 522.5h-8M1754.5 471.5h-8M1754.5 419.5h-8M1754.5 368.5h-8M1754.5 316.5h-8" stroke="#262626" stroke-width="1" fill="none" />
</g>
<text x="1765" y="1051.56" font-size="33.5">2</text>
<text x="1765" y="1000.07" font-size="33.5">4</text>
<text x="1765" y="948.59" font-size="33.5">6</text>
<text x="1765" y="897.11" font-size="33.5">8</text>
<text x="1765" y="845.62" font-size="33.5">10</text>
<text x="1765" y="794.14" font-size="33.5">12</text>
<text x="1765" y="742.65" font-size="33.5">14</text>
<text x="1765" y="691.17" font-size="33.5">16</text>
<text x="1765" y="639.69" font-size="33.5">18</text>
<text x="1765" y="588.2" font-size="33.5">20</text>
<text x="1765" y="536.72" font-size="33.5">22</text>
<text x="1765" y="485.24" font-size="33.5">24</text>
<text x="1765" y="433.75" font-size="33.5">26</text>
<text x="1765" y="382.27" font-size="33.5">28</text>
<text x="1765" y="330.78" font-size="33.5">30</text>
<text x="1765" y="279.3" font-size="33.5">32</text>
<text transform="translate(1841 665) rotate(-90)" text-anchor="middle" font-size="33.5">PRN</text>
</svg>
</body>
</html>
